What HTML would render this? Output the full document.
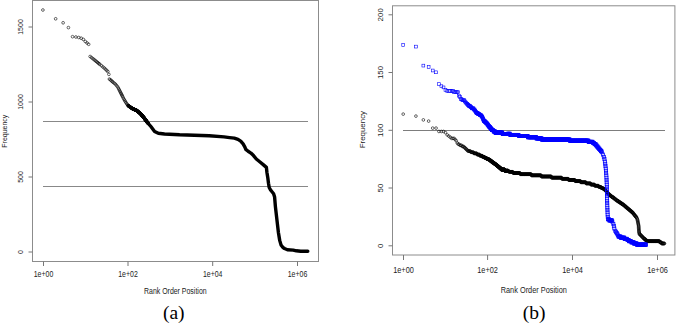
<!DOCTYPE html>
<html><head><meta charset="utf-8"><style>
html,body{margin:0;padding:0;background:#fff;}
body{width:676px;height:324px;overflow:hidden;font-family:"Liberation Sans",sans-serif;}
svg{display:block;}
</style></head><body>
<svg width="676" height="324" viewBox="0 0 676 324">
<rect x="32.5" y="0.5" width="286" height="261" fill="none" stroke="#8c8c8c" stroke-width="1"/><line x1="43" y1="121.5" x2="308" y2="121.5" stroke="#888" stroke-width="1"/><line x1="43" y1="186.5" x2="308" y2="186.5" stroke="#888" stroke-width="1"/><g font-family="&quot;Liberation Sans&quot;, sans-serif" font-size="7.0" fill="#222"><line x1="28.5" y1="252" x2="32.5" y2="252" stroke="#777" stroke-width="1"/><text transform="translate(22.5,252) rotate(-90)" text-anchor="middle" font-size="7.0">0</text><line x1="28.5" y1="177" x2="32.5" y2="177" stroke="#777" stroke-width="1"/><text transform="translate(22.5,177) rotate(-90)" text-anchor="middle" font-size="7.0">500</text><line x1="28.5" y1="102" x2="32.5" y2="102" stroke="#777" stroke-width="1"/><text transform="translate(22.5,102) rotate(-90)" text-anchor="middle" font-size="7.0">1000</text><line x1="28.5" y1="27" x2="32.5" y2="27" stroke="#777" stroke-width="1"/><text transform="translate(22.5,27) rotate(-90)" text-anchor="middle" font-size="7.0">1500</text><line x1="43.5" y1="261.5" x2="43.5" y2="266.0" stroke="#777" stroke-width="1"/><text transform="translate(43.5,277) scale(0.85,1)" text-anchor="middle" font-size="8.2">1e+00</text><line x1="128.0" y1="261.5" x2="128.0" y2="266.0" stroke="#777" stroke-width="1"/><text transform="translate(128.0,277) scale(0.85,1)" text-anchor="middle" font-size="8.2">1e+02</text><line x1="212.7" y1="261.5" x2="212.7" y2="266.0" stroke="#777" stroke-width="1"/><text transform="translate(212.7,277) scale(0.85,1)" text-anchor="middle" font-size="8.2">1e+04</text><line x1="297.5" y1="261.5" x2="297.5" y2="266.0" stroke="#777" stroke-width="1"/><text transform="translate(297.5,277) scale(0.85,1)" text-anchor="middle" font-size="8.2">1e+06</text><text transform="translate(175.3,294) scale(0.85,1)" font-size="8.2" text-anchor="middle">Rank Order Position</text><text transform="translate(7.1,131.2) rotate(-90)" font-size="7.0" text-anchor="middle">Frequency</text></g><g fill="none" stroke="#000" stroke-width="0.6"><circle cx="42.90" cy="10.00" r="1.35"/><circle cx="55.66" cy="18.80" r="1.35"/><circle cx="63.13" cy="22.80" r="1.35"/><circle cx="68.43" cy="27.60" r="1.35"/><circle cx="72.54" cy="36.70" r="1.35"/><circle cx="75.89" cy="37.00" r="1.35"/><circle cx="78.73" cy="37.50" r="1.35"/><circle cx="81.19" cy="38.20" r="1.35"/><circle cx="83.36" cy="39.40" r="1.35"/><circle cx="85.30" cy="41.50" r="1.35"/><circle cx="87.06" cy="43.00" r="1.35"/><circle cx="88.66" cy="44.30" r="1.35"/><circle cx="90.13" cy="56.50" r="1.35"/><circle cx="91.50" cy="57.58" r="1.35"/><circle cx="92.77" cy="58.59" r="1.35"/><circle cx="93.95" cy="59.53" r="1.35"/><circle cx="95.07" cy="60.42" r="1.35"/><circle cx="96.12" cy="61.29" r="1.35"/><circle cx="97.12" cy="62.11" r="1.35"/><circle cx="98.06" cy="62.89" r="1.35"/><circle cx="98.96" cy="63.63" r="1.35"/><circle cx="99.82" cy="64.33" r="1.35"/><circle cx="101.42" cy="65.68" r="1.35"/><circle cx="102.89" cy="66.92" r="1.35"/><circle cx="104.26" cy="68.06" r="1.35"/><circle cx="105.53" cy="69.23" r="1.35"/><circle cx="106.72" cy="70.42" r="1.35"/><circle cx="107.83" cy="71.53" r="1.35"/><circle cx="108.89" cy="74.35" r="1.35"/><circle cx="109.39" cy="79.03" r="1.35"/><circle cx="110.36" cy="79.78" r="1.35"/><circle cx="111.28" cy="80.58" r="1.35"/><circle cx="112.16" cy="81.46" r="1.35"/><circle cx="113.00" cy="82.18" r="1.35"/><circle cx="114.18" cy="83.14" r="1.35"/><circle cx="115.30" cy="84.04" r="1.35"/><circle cx="116.35" cy="85.26" r="1.35"/><circle cx="117.35" cy="86.49" r="1.35"/><circle cx="118.29" cy="87.90" r="1.35"/><circle cx="118.90" cy="89.14" r="1.35"/><circle cx="119.48" cy="90.35" r="1.35"/><circle cx="120.05" cy="91.48" r="1.35"/><circle cx="120.60" cy="92.55" r="1.35"/><circle cx="121.13" cy="93.59" r="1.35"/><circle cx="121.65" cy="94.60" r="1.35"/><circle cx="122.16" cy="95.64" r="1.35"/><circle cx="122.65" cy="96.65" r="1.35"/><circle cx="123.36" cy="98.11" r="1.35"/><circle cx="124.05" cy="99.34" r="1.35"/><circle cx="124.71" cy="100.48" r="1.35"/><circle cx="125.35" cy="101.58" r="1.35"/><circle cx="125.96" cy="102.64" r="1.35"/><circle cx="126.76" cy="103.74" r="1.35"/><circle cx="127.51" cy="104.79" r="1.35"/><circle cx="128.06" cy="105.55" r="1.35"/><circle cx="128.24" cy="105.70" r="1.35"/><circle cx="128.42" cy="105.82" r="1.35"/><circle cx="128.60" cy="105.95" r="1.35"/><circle cx="128.77" cy="106.07" r="1.35"/><circle cx="128.95" cy="106.19" r="1.35"/><circle cx="129.12" cy="106.31" r="1.35"/><circle cx="129.29" cy="106.43" r="1.35"/><circle cx="129.46" cy="106.55" r="1.35"/><circle cx="129.62" cy="106.66" r="1.35"/><circle cx="129.79" cy="106.78" r="1.35"/><circle cx="129.95" cy="106.89" r="1.35"/><circle cx="130.11" cy="107.00" r="1.35"/><circle cx="130.27" cy="107.12" r="1.35"/><circle cx="130.43" cy="107.23" r="1.35"/><circle cx="130.59" cy="107.34" r="1.35"/><circle cx="130.75" cy="107.45" r="1.35"/><circle cx="130.90" cy="107.56" r="1.35"/><circle cx="131.06" cy="107.66" r="1.35"/><circle cx="131.21" cy="107.77" r="1.35"/><circle cx="131.36" cy="107.88" r="1.35"/><circle cx="131.51" cy="107.98" r="1.35"/><circle cx="131.66" cy="108.08" r="1.35"/><circle cx="131.81" cy="108.19" r="1.35"/><circle cx="131.96" cy="108.29" r="1.35"/><circle cx="132.10" cy="108.39" r="1.35"/><circle cx="132.25" cy="108.49" r="1.35"/><circle cx="132.39" cy="108.59" r="1.35"/><circle cx="132.53" cy="108.66" r="1.35"/><circle cx="132.67" cy="108.72" r="1.35"/><circle cx="132.81" cy="108.78" r="1.35"/><circle cx="132.95" cy="108.84" r="1.35"/><circle cx="133.09" cy="108.90" r="1.35"/><circle cx="133.23" cy="108.97" r="1.35"/><circle cx="133.36" cy="109.03" r="1.35"/><circle cx="133.50" cy="109.08" r="1.35"/><circle cx="133.63" cy="109.14" r="1.35"/><circle cx="133.76" cy="109.20" r="1.35"/><circle cx="133.90" cy="109.26" r="1.35"/><circle cx="134.03" cy="109.32" r="1.35"/><circle cx="134.16" cy="109.38" r="1.35"/><circle cx="134.29" cy="109.43" r="1.35"/><circle cx="134.41" cy="109.49" r="1.35"/><circle cx="134.54" cy="109.55" r="1.35"/><circle cx="134.67" cy="109.60" r="1.35"/><circle cx="134.79" cy="109.66" r="1.35"/><circle cx="134.92" cy="109.71" r="1.35"/><circle cx="135.04" cy="109.77" r="1.35"/><circle cx="135.17" cy="109.82" r="1.35"/><circle cx="135.29" cy="109.88" r="1.35"/><circle cx="135.41" cy="109.93" r="1.35"/><circle cx="135.53" cy="109.98" r="1.35"/><circle cx="135.65" cy="110.04" r="1.35"/><circle cx="135.77" cy="110.09" r="1.35"/><circle cx="135.89" cy="110.14" r="1.35"/><circle cx="136.01" cy="110.19" r="1.35"/><circle cx="136.12" cy="110.25" r="1.35"/><circle cx="136.24" cy="110.30" r="1.35"/><circle cx="136.35" cy="110.35" r="1.35"/><circle cx="136.47" cy="110.40" r="1.35"/><circle cx="136.58" cy="110.45" r="1.35"/><circle cx="136.70" cy="110.50" r="1.35"/><circle cx="136.81" cy="110.59" r="1.35"/><circle cx="136.92" cy="110.69" r="1.35"/><circle cx="137.03" cy="110.78" r="1.35"/><circle cx="137.14" cy="110.87" r="1.35"/><circle cx="137.25" cy="110.96" r="1.35"/><circle cx="137.36" cy="111.05" r="1.35"/><circle cx="137.47" cy="111.15" r="1.35"/><circle cx="137.58" cy="111.24" r="1.35"/><circle cx="137.69" cy="111.33" r="1.35"/><circle cx="137.79" cy="111.42" r="1.35"/><circle cx="137.90" cy="111.50" r="1.35"/><circle cx="138.00" cy="111.59" r="1.35"/><circle cx="138.11" cy="111.68" r="1.35"/><circle cx="138.21" cy="111.77" r="1.35"/><circle cx="138.32" cy="111.86" r="1.35"/><circle cx="138.42" cy="111.94" r="1.35"/><circle cx="138.52" cy="112.03" r="1.35"/><circle cx="138.63" cy="112.11" r="1.35"/><circle cx="138.73" cy="112.20" r="1.35"/><circle cx="138.83" cy="112.28" r="1.35"/><circle cx="138.93" cy="112.37" r="1.35"/><circle cx="139.03" cy="112.45" r="1.35"/><circle cx="139.13" cy="112.53" r="1.35"/><circle cx="139.23" cy="112.62" r="1.35"/><circle cx="139.32" cy="112.70" r="1.35"/><circle cx="139.42" cy="112.78" r="1.35"/><circle cx="139.52" cy="112.86" r="1.35"/><circle cx="139.62" cy="112.94" r="1.35"/><circle cx="139.71" cy="113.02" r="1.35"/><circle cx="139.81" cy="113.10" r="1.35"/><circle cx="139.90" cy="113.18" r="1.35"/><circle cx="140.00" cy="113.26" r="1.35"/><circle cx="140.09" cy="113.34" r="1.35"/><circle cx="140.19" cy="113.42" r="1.35"/><circle cx="140.28" cy="113.50" r="1.35"/><circle cx="140.37" cy="113.58" r="1.35"/><circle cx="140.46" cy="113.67" r="1.35"/><circle cx="140.56" cy="113.78" r="1.35"/><circle cx="140.65" cy="113.89" r="1.35"/><circle cx="140.74" cy="113.99" r="1.35"/><circle cx="140.83" cy="114.10" r="1.35"/><circle cx="140.92" cy="114.20" r="1.35"/><circle cx="141.01" cy="114.31" r="1.35"/><circle cx="141.10" cy="114.41" r="1.35"/><circle cx="141.19" cy="114.51" r="1.35"/><circle cx="141.27" cy="114.62" r="1.35"/><circle cx="141.36" cy="114.72" r="1.35"/><circle cx="141.45" cy="114.82" r="1.35"/><circle cx="141.54" cy="114.92" r="1.35"/><circle cx="141.62" cy="115.02" r="1.35"/><circle cx="141.71" cy="115.12" r="1.35"/><circle cx="141.80" cy="115.22" r="1.35"/><circle cx="141.88" cy="115.32" r="1.35"/><circle cx="141.97" cy="115.42" r="1.35"/><circle cx="142.05" cy="115.52" r="1.35"/><circle cx="142.13" cy="115.62" r="1.35"/><circle cx="142.22" cy="115.71" r="1.35"/><circle cx="142.30" cy="115.81" r="1.35"/><circle cx="142.39" cy="115.91" r="1.35"/><circle cx="142.47" cy="116.00" r="1.35"/><circle cx="142.55" cy="116.10" r="1.35"/><circle cx="142.63" cy="116.19" r="1.35"/><circle cx="142.71" cy="116.29" r="1.35"/><circle cx="142.80" cy="116.38" r="1.35"/><circle cx="142.88" cy="116.48" r="1.35"/><circle cx="142.96" cy="116.57" r="1.35"/><circle cx="143.04" cy="116.66" r="1.35"/><circle cx="143.12" cy="116.76" r="1.35"/><circle cx="143.20" cy="116.85" r="1.35"/><circle cx="143.28" cy="116.94" r="1.35"/><circle cx="143.35" cy="117.03" r="1.35"/><circle cx="143.43" cy="117.13" r="1.35"/><circle cx="143.51" cy="117.22" r="1.35"/><circle cx="143.59" cy="117.31" r="1.35"/><circle cx="143.67" cy="117.40" r="1.35"/><circle cx="143.74" cy="117.49" r="1.35"/><circle cx="143.82" cy="117.58" r="1.35"/><circle cx="143.90" cy="117.66" r="1.35"/><circle cx="143.97" cy="117.75" r="1.35"/><circle cx="144.05" cy="117.84" r="1.35"/><circle cx="144.13" cy="117.94" r="1.35"/><circle cx="144.20" cy="118.04" r="1.35"/><circle cx="144.28" cy="118.14" r="1.35"/><circle cx="144.35" cy="118.25" r="1.35"/><circle cx="144.42" cy="118.35" r="1.35"/><circle cx="144.50" cy="118.45" r="1.35"/><circle cx="144.57" cy="118.56" r="1.35"/><circle cx="144.65" cy="118.66" r="1.35"/><circle cx="144.72" cy="118.76" r="1.35"/><circle cx="144.79" cy="118.86" r="1.35"/><circle cx="144.86" cy="118.96" r="1.35"/><circle cx="144.94" cy="119.06" r="1.35"/><circle cx="145.01" cy="119.16" r="1.35"/><circle cx="145.08" cy="119.26" r="1.35"/><circle cx="145.15" cy="119.36" r="1.35"/><circle cx="145.22" cy="119.46" r="1.35"/><circle cx="145.29" cy="119.56" r="1.35"/><circle cx="145.37" cy="119.66" r="1.35"/><circle cx="145.44" cy="119.75" r="1.35"/><circle cx="145.51" cy="119.85" r="1.35"/><circle cx="145.58" cy="119.95" r="1.35"/><circle cx="145.65" cy="120.04" r="1.35"/><circle cx="145.71" cy="120.14" r="1.35"/><circle cx="145.78" cy="120.24" r="1.35"/><circle cx="145.85" cy="120.33" r="1.35"/><circle cx="145.92" cy="120.43" r="1.35"/><circle cx="145.99" cy="120.52" r="1.35"/><circle cx="146.06" cy="120.62" r="1.35"/><circle cx="146.13" cy="120.71" r="1.35"/><circle cx="146.19" cy="120.80" r="1.35"/><circle cx="146.26" cy="120.90" r="1.35"/><circle cx="146.33" cy="120.99" r="1.35"/><circle cx="146.39" cy="121.08" r="1.35"/><circle cx="146.46" cy="121.18" r="1.35"/><circle cx="146.53" cy="121.27" r="1.35"/><circle cx="146.59" cy="121.36" r="1.35"/><circle cx="146.66" cy="121.45" r="1.35"/><circle cx="146.73" cy="121.54" r="1.35"/><circle cx="146.79" cy="121.63" r="1.35"/><circle cx="146.86" cy="121.72" r="1.35"/><circle cx="146.92" cy="121.81" r="1.35"/><circle cx="146.99" cy="121.90" r="1.35"/><circle cx="147.05" cy="121.99" r="1.35"/><circle cx="147.11" cy="122.08" r="1.35"/><circle cx="147.18" cy="122.17" r="1.35"/><circle cx="147.24" cy="122.25" r="1.35"/><circle cx="147.31" cy="122.32" r="1.35"/><circle cx="147.37" cy="122.40" r="1.35"/><circle cx="147.43" cy="122.47" r="1.35"/><circle cx="147.50" cy="122.54" r="1.35"/><circle cx="147.56" cy="122.62" r="1.35"/><circle cx="147.62" cy="122.69" r="1.35"/><circle cx="147.68" cy="122.76" r="1.35"/><circle cx="147.74" cy="122.83" r="1.35"/><circle cx="147.81" cy="122.91" r="1.35"/><circle cx="147.87" cy="122.98" r="1.35"/><circle cx="147.93" cy="123.05" r="1.35"/></g><polyline points="147.93,123.05 150.90,126.50 154.60,131.50 158.30,133.30 164.50,134.00 179.60,134.80 194.40,135.20 209.20,135.80 224.00,136.90 229.60,137.60 234.30,138.10 238.00,139.30 240.70,141.10 243.10,143.90 244.90,147.10 245.80,149.40 248.10,151.30 250.90,153.10 253.50,155.60 256.30,159.00 259.70,161.80 263.20,164.60 266.40,167.40 266.90,172.20 267.80,177.80 268.50,183.30 269.20,187.50 270.80,190.30 273.60,193.80 274.60,197.00 275.40,206.60 276.90,219.60 278.40,232.50 279.70,240.40 281.00,244.90 282.80,247.30 284.50,248.50 287.40,249.70 293.30,250.10 296.30,250.80 300.70,251.30 307.80,251.30" fill="none" stroke="#000" stroke-width="3.4" stroke-linejoin="round" stroke-linecap="round"/><rect x="392.5" y="5.8" width="282.4" height="249.2" fill="none" stroke="#8c8c8c" stroke-width="1"/><line x1="403" y1="130.5" x2="665" y2="130.5" stroke="#7d7d7d" stroke-width="1"/><g font-family="&quot;Liberation Sans&quot;, sans-serif" font-size="7.5" fill="#222"><line x1="388.5" y1="245.8" x2="392.5" y2="245.8" stroke="#777" stroke-width="1"/><text transform="translate(382.8,245.8) rotate(-90)" text-anchor="middle" font-size="7.9">0</text><line x1="388.5" y1="188" x2="392.5" y2="188" stroke="#777" stroke-width="1"/><text transform="translate(382.8,188) rotate(-90)" text-anchor="middle" font-size="7.9">50</text><line x1="388.5" y1="130.3" x2="392.5" y2="130.3" stroke="#777" stroke-width="1"/><text transform="translate(382.8,130.3) rotate(-90)" text-anchor="middle" font-size="7.9">100</text><line x1="388.5" y1="72.5" x2="392.5" y2="72.5" stroke="#777" stroke-width="1"/><text transform="translate(382.8,72.5) rotate(-90)" text-anchor="middle" font-size="7.9">150</text><line x1="388.5" y1="14.8" x2="392.5" y2="14.8" stroke="#777" stroke-width="1"/><text transform="translate(382.8,14.8) rotate(-90)" text-anchor="middle" font-size="7.9">200</text><line x1="403.5" y1="255.0" x2="403.5" y2="260.0" stroke="#777" stroke-width="1"/><text transform="translate(403.5,272.8) scale(0.855,1)" text-anchor="middle" font-size="8.6">1e+00</text><line x1="487.6" y1="255.0" x2="487.6" y2="260.0" stroke="#777" stroke-width="1"/><text transform="translate(487.6,272.8) scale(0.855,1)" text-anchor="middle" font-size="8.6">1e+02</text><line x1="572.5" y1="255.0" x2="572.5" y2="260.0" stroke="#777" stroke-width="1"/><text transform="translate(572.5,272.8) scale(0.855,1)" text-anchor="middle" font-size="8.6">1e+04</text><line x1="657.5" y1="255.0" x2="657.5" y2="260.0" stroke="#777" stroke-width="1"/><text transform="translate(657.5,272.8) scale(0.855,1)" text-anchor="middle" font-size="8.6">1e+06</text><text transform="translate(533.8,292.5) scale(0.855,1)" font-size="8.6" text-anchor="middle">Rank Order Position</text><text transform="translate(364.8,129.6) rotate(-90)" font-size="7.9" text-anchor="middle">Frequency</text></g><g fill="none" stroke="#000" stroke-width="0.6"><circle cx="403.20" cy="114.10" r="1.35"/><circle cx="415.92" cy="116.10" r="1.35"/><circle cx="423.36" cy="119.90" r="1.35"/><circle cx="428.64" cy="121.10" r="1.35"/><circle cx="432.73" cy="128.10" r="1.35"/><circle cx="436.08" cy="128.10" r="1.35"/><circle cx="438.91" cy="131.46" r="1.35"/><circle cx="441.36" cy="131.46" r="1.35"/><circle cx="443.52" cy="131.46" r="1.35"/><circle cx="445.45" cy="132.61" r="1.35"/><circle cx="447.20" cy="134.92" r="1.35"/><circle cx="448.80" cy="136.07" r="1.35"/><circle cx="450.26" cy="137.23" r="1.35"/><circle cx="451.62" cy="138.38" r="1.35"/><circle cx="452.89" cy="138.38" r="1.35"/><circle cx="454.07" cy="138.38" r="1.35"/><circle cx="455.19" cy="139.54" r="1.35"/><circle cx="456.24" cy="140.69" r="1.35"/><circle cx="457.23" cy="143.00" r="1.35"/><circle cx="458.17" cy="144.16" r="1.35"/><circle cx="459.06" cy="144.16" r="1.35"/><circle cx="459.92" cy="145.31" r="1.35"/><circle cx="460.73" cy="145.31" r="1.35"/><circle cx="461.51" cy="145.31" r="1.35"/><circle cx="462.26" cy="146.47" r="1.35"/><circle cx="462.98" cy="146.47" r="1.35"/><circle cx="463.68" cy="146.47" r="1.35"/><circle cx="464.34" cy="147.62" r="1.35"/><circle cx="464.99" cy="147.62" r="1.35"/><circle cx="465.61" cy="148.78" r="1.35"/><circle cx="466.21" cy="148.78" r="1.35"/><circle cx="466.79" cy="149.94" r="1.35"/><circle cx="467.36" cy="149.94" r="1.35"/><circle cx="467.90" cy="151.09" r="1.35"/><circle cx="468.44" cy="151.09" r="1.35"/><circle cx="468.95" cy="151.09" r="1.35"/><circle cx="469.46" cy="151.09" r="1.35"/><circle cx="469.95" cy="151.09" r="1.35"/><circle cx="470.42" cy="151.09" r="1.35"/><circle cx="470.89" cy="152.25" r="1.35"/><circle cx="471.34" cy="152.25" r="1.35"/><circle cx="471.78" cy="152.25" r="1.35"/><circle cx="472.21" cy="152.25" r="1.35"/><circle cx="472.64" cy="152.25" r="1.35"/><circle cx="473.05" cy="152.25" r="1.35"/><circle cx="473.45" cy="152.25" r="1.35"/><circle cx="473.85" cy="153.40" r="1.35"/><circle cx="474.23" cy="153.40" r="1.35"/><circle cx="474.61" cy="153.40" r="1.35"/><circle cx="474.98" cy="153.40" r="1.35"/><circle cx="475.34" cy="153.40" r="1.35"/><circle cx="475.70" cy="153.40" r="1.35"/><circle cx="476.05" cy="153.40" r="1.35"/><circle cx="476.39" cy="153.40" r="1.35"/><circle cx="476.73" cy="153.40" r="1.35"/><circle cx="477.06" cy="154.56" r="1.35"/><circle cx="477.39" cy="154.56" r="1.35"/><circle cx="477.70" cy="154.56" r="1.35"/><circle cx="478.02" cy="154.56" r="1.35"/><circle cx="478.33" cy="154.56" r="1.35"/><circle cx="478.63" cy="154.56" r="1.35"/><circle cx="478.93" cy="154.56" r="1.35"/><circle cx="479.22" cy="154.56" r="1.35"/><circle cx="479.51" cy="154.56" r="1.35"/><circle cx="479.80" cy="155.71" r="1.35"/><circle cx="480.08" cy="155.71" r="1.35"/><circle cx="480.35" cy="155.71" r="1.35"/><circle cx="480.62" cy="155.71" r="1.35"/><circle cx="480.89" cy="155.71" r="1.35"/><circle cx="481.16" cy="155.71" r="1.35"/><circle cx="481.42" cy="155.71" r="1.35"/><circle cx="481.67" cy="155.71" r="1.35"/><circle cx="481.93" cy="155.71" r="1.35"/><circle cx="482.18" cy="155.71" r="1.35"/><circle cx="482.42" cy="156.87" r="1.35"/><circle cx="482.66" cy="156.87" r="1.35"/><circle cx="482.90" cy="156.87" r="1.35"/><circle cx="483.14" cy="156.87" r="1.35"/><circle cx="483.37" cy="156.87" r="1.35"/><circle cx="483.61" cy="156.87" r="1.35"/><circle cx="483.83" cy="156.87" r="1.35"/><circle cx="484.06" cy="156.87" r="1.35"/><circle cx="484.28" cy="156.87" r="1.35"/><circle cx="484.50" cy="156.87" r="1.35"/><circle cx="484.72" cy="158.02" r="1.35"/><circle cx="484.93" cy="158.02" r="1.35"/><circle cx="485.14" cy="158.02" r="1.35"/><circle cx="485.35" cy="158.02" r="1.35"/><circle cx="485.56" cy="158.02" r="1.35"/><circle cx="485.77" cy="158.02" r="1.35"/><circle cx="485.97" cy="158.02" r="1.35"/><circle cx="486.17" cy="158.02" r="1.35"/><circle cx="486.37" cy="158.02" r="1.35"/><circle cx="486.56" cy="158.02" r="1.35"/><circle cx="486.76" cy="158.02" r="1.35"/><circle cx="486.95" cy="159.18" r="1.35"/><circle cx="487.14" cy="159.18" r="1.35"/><circle cx="487.33" cy="159.18" r="1.35"/><circle cx="487.52" cy="159.18" r="1.35"/><circle cx="487.70" cy="159.18" r="1.35"/><circle cx="487.88" cy="159.18" r="1.35"/><circle cx="488.06" cy="159.18" r="1.35"/><circle cx="488.24" cy="159.18" r="1.35"/><circle cx="488.42" cy="159.18" r="1.35"/><circle cx="488.60" cy="159.18" r="1.35"/><circle cx="488.77" cy="159.18" r="1.35"/><circle cx="488.94" cy="159.18" r="1.35"/><circle cx="489.11" cy="159.18" r="1.35"/><circle cx="489.28" cy="160.33" r="1.35"/><circle cx="489.45" cy="160.33" r="1.35"/><circle cx="489.61" cy="160.33" r="1.35"/><circle cx="489.78" cy="160.33" r="1.35"/><circle cx="489.94" cy="160.33" r="1.35"/><circle cx="490.10" cy="160.33" r="1.35"/><circle cx="490.26" cy="160.33" r="1.35"/><circle cx="490.42" cy="160.33" r="1.35"/><circle cx="490.58" cy="160.33" r="1.35"/><circle cx="490.74" cy="160.33" r="1.35"/><circle cx="490.89" cy="161.49" r="1.35"/><circle cx="491.05" cy="161.49" r="1.35"/><circle cx="491.20" cy="161.49" r="1.35"/><circle cx="491.35" cy="161.49" r="1.35"/><circle cx="491.50" cy="161.49" r="1.35"/><circle cx="491.65" cy="161.49" r="1.35"/><circle cx="491.79" cy="161.49" r="1.35"/><circle cx="491.94" cy="161.49" r="1.35"/><circle cx="492.09" cy="161.49" r="1.35"/><circle cx="492.23" cy="161.49" r="1.35"/><circle cx="492.37" cy="161.49" r="1.35"/><circle cx="492.51" cy="162.64" r="1.35"/><circle cx="492.65" cy="162.64" r="1.35"/><circle cx="492.79" cy="162.64" r="1.35"/><circle cx="492.93" cy="162.64" r="1.35"/><circle cx="493.07" cy="162.64" r="1.35"/><circle cx="493.21" cy="162.64" r="1.35"/><circle cx="493.34" cy="162.64" r="1.35"/><circle cx="493.48" cy="162.64" r="1.35"/><circle cx="493.61" cy="162.64" r="1.35"/><circle cx="493.74" cy="162.64" r="1.35"/><circle cx="493.87" cy="162.64" r="1.35"/><circle cx="494.00" cy="162.64" r="1.35"/><circle cx="494.13" cy="163.80" r="1.35"/><circle cx="494.26" cy="163.80" r="1.35"/><circle cx="494.39" cy="163.80" r="1.35"/><circle cx="494.52" cy="163.80" r="1.35"/><circle cx="494.64" cy="163.80" r="1.35"/><circle cx="494.77" cy="163.80" r="1.35"/><circle cx="494.89" cy="163.80" r="1.35"/><circle cx="495.02" cy="163.80" r="1.35"/><circle cx="495.14" cy="163.80" r="1.35"/><circle cx="495.26" cy="163.80" r="1.35"/><circle cx="495.38" cy="163.80" r="1.35"/><circle cx="495.50" cy="163.80" r="1.35"/><circle cx="495.62" cy="163.80" r="1.35"/><circle cx="495.74" cy="164.95" r="1.35"/><circle cx="495.86" cy="164.95" r="1.35"/><circle cx="495.98" cy="164.95" r="1.35"/><circle cx="496.09" cy="164.95" r="1.35"/><circle cx="496.21" cy="164.95" r="1.35"/><circle cx="496.32" cy="164.95" r="1.35"/><circle cx="496.44" cy="164.95" r="1.35"/><circle cx="496.55" cy="164.95" r="1.35"/><circle cx="496.66" cy="164.95" r="1.35"/><circle cx="496.78" cy="164.95" r="1.35"/><circle cx="496.89" cy="164.95" r="1.35"/><circle cx="497.00" cy="164.95" r="1.35"/><circle cx="497.11" cy="166.11" r="1.35"/><circle cx="497.22" cy="166.11" r="1.35"/><circle cx="497.33" cy="166.11" r="1.35"/><circle cx="497.44" cy="166.11" r="1.35"/><circle cx="497.54" cy="166.11" r="1.35"/><circle cx="497.65" cy="166.11" r="1.35"/><circle cx="497.76" cy="166.11" r="1.35"/><circle cx="497.86" cy="166.11" r="1.35"/><circle cx="497.97" cy="166.11" r="1.35"/><circle cx="498.07" cy="166.11" r="1.35"/><circle cx="498.18" cy="166.11" r="1.35"/><circle cx="498.28" cy="166.11" r="1.35"/><circle cx="498.38" cy="166.11" r="1.35"/><circle cx="498.49" cy="167.26" r="1.35"/><circle cx="498.59" cy="167.26" r="1.35"/><circle cx="498.69" cy="167.26" r="1.35"/><circle cx="498.79" cy="167.26" r="1.35"/><circle cx="498.89" cy="167.26" r="1.35"/><circle cx="498.99" cy="167.26" r="1.35"/><circle cx="499.09" cy="167.26" r="1.35"/><circle cx="499.19" cy="167.26" r="1.35"/><circle cx="499.28" cy="167.26" r="1.35"/><circle cx="499.38" cy="167.26" r="1.35"/><circle cx="499.48" cy="167.26" r="1.35"/><circle cx="499.57" cy="167.26" r="1.35"/><circle cx="499.67" cy="167.26" r="1.35"/><circle cx="499.76" cy="167.26" r="1.35"/><circle cx="499.86" cy="168.42" r="1.35"/><circle cx="499.95" cy="168.42" r="1.35"/><circle cx="500.05" cy="168.42" r="1.35"/><circle cx="500.14" cy="168.42" r="1.35"/><circle cx="500.23" cy="168.42" r="1.35"/><circle cx="500.33" cy="168.42" r="1.35"/><circle cx="500.42" cy="168.42" r="1.35"/><circle cx="500.51" cy="168.42" r="1.35"/><circle cx="500.60" cy="168.42" r="1.35"/><circle cx="500.69" cy="168.42" r="1.35"/><circle cx="500.78" cy="168.42" r="1.35"/><circle cx="500.87" cy="168.42" r="1.35"/><circle cx="500.96" cy="168.42" r="1.35"/><circle cx="501.05" cy="168.42" r="1.35"/><circle cx="501.14" cy="168.42" r="1.35"/><circle cx="501.23" cy="169.57" r="1.35"/><circle cx="501.31" cy="169.57" r="1.35"/><circle cx="501.40" cy="169.57" r="1.35"/><circle cx="501.49" cy="169.57" r="1.35"/><circle cx="501.57" cy="169.57" r="1.35"/><circle cx="501.66" cy="169.57" r="1.35"/><circle cx="501.75" cy="169.57" r="1.35"/><circle cx="501.83" cy="169.57" r="1.35"/><circle cx="501.92" cy="169.57" r="1.35"/><circle cx="502.00" cy="169.57" r="1.35"/><circle cx="502.08" cy="169.57" r="1.35"/><circle cx="502.17" cy="169.57" r="1.35"/><circle cx="502.25" cy="169.57" r="1.35"/><circle cx="502.33" cy="169.57" r="1.35"/><circle cx="502.42" cy="169.57" r="1.35"/><circle cx="502.50" cy="169.57" r="1.35"/><circle cx="502.58" cy="169.57" r="1.35"/><circle cx="502.66" cy="169.57" r="1.35"/><circle cx="502.74" cy="169.57" r="1.35"/><circle cx="502.82" cy="169.57" r="1.35"/><circle cx="502.90" cy="169.57" r="1.35"/><circle cx="502.98" cy="169.57" r="1.35"/><circle cx="503.06" cy="169.57" r="1.35"/><circle cx="503.14" cy="169.57" r="1.35"/><circle cx="503.22" cy="169.57" r="1.35"/><circle cx="503.30" cy="169.57" r="1.35"/><circle cx="503.38" cy="169.57" r="1.35"/><circle cx="503.46" cy="169.57" r="1.35"/><circle cx="503.53" cy="169.57" r="1.35"/><circle cx="503.61" cy="169.57" r="1.35"/><circle cx="503.69" cy="169.57" r="1.35"/><circle cx="503.76" cy="169.57" r="1.35"/><circle cx="503.84" cy="169.57" r="1.35"/><circle cx="503.92" cy="169.57" r="1.35"/><circle cx="503.99" cy="169.57" r="1.35"/><circle cx="504.07" cy="169.57" r="1.35"/><circle cx="504.14" cy="169.57" r="1.35"/><circle cx="504.22" cy="169.57" r="1.35"/><circle cx="504.29" cy="169.57" r="1.35"/><circle cx="504.37" cy="169.57" r="1.35"/><circle cx="504.44" cy="169.57" r="1.35"/><circle cx="504.51" cy="169.57" r="1.35"/><circle cx="504.59" cy="169.57" r="1.35"/><circle cx="504.66" cy="169.57" r="1.35"/><circle cx="504.73" cy="169.57" r="1.35"/><circle cx="504.80" cy="170.73" r="1.35"/><circle cx="504.88" cy="170.73" r="1.35"/><circle cx="504.95" cy="170.73" r="1.35"/><circle cx="505.02" cy="170.73" r="1.35"/><circle cx="505.09" cy="170.73" r="1.35"/><circle cx="505.16" cy="170.73" r="1.35"/><circle cx="505.23" cy="170.73" r="1.35"/><circle cx="505.30" cy="170.73" r="1.35"/><circle cx="505.37" cy="170.73" r="1.35"/><circle cx="505.44" cy="170.73" r="1.35"/><circle cx="505.51" cy="170.73" r="1.35"/><circle cx="505.58" cy="170.73" r="1.35"/><circle cx="505.65" cy="170.73" r="1.35"/><circle cx="505.72" cy="170.73" r="1.35"/><circle cx="505.79" cy="170.73" r="1.35"/><circle cx="505.86" cy="170.73" r="1.35"/><circle cx="505.93" cy="170.73" r="1.35"/><circle cx="505.99" cy="170.73" r="1.35"/><circle cx="506.06" cy="170.73" r="1.35"/><circle cx="506.13" cy="170.73" r="1.35"/><circle cx="506.19" cy="170.73" r="1.35"/><circle cx="506.26" cy="170.73" r="1.35"/><circle cx="506.33" cy="170.73" r="1.35"/><circle cx="506.39" cy="170.73" r="1.35"/><circle cx="506.46" cy="170.73" r="1.35"/><circle cx="506.53" cy="170.73" r="1.35"/><circle cx="506.59" cy="170.73" r="1.35"/><circle cx="506.66" cy="170.73" r="1.35"/><circle cx="506.72" cy="170.73" r="1.35"/><circle cx="506.79" cy="170.73" r="1.35"/><circle cx="506.85" cy="170.73" r="1.35"/><circle cx="506.92" cy="170.73" r="1.35"/><circle cx="506.98" cy="170.73" r="1.35"/><circle cx="507.05" cy="170.73" r="1.35"/><circle cx="507.11" cy="170.73" r="1.35"/><circle cx="507.17" cy="170.73" r="1.35"/><circle cx="507.24" cy="170.73" r="1.35"/><circle cx="507.30" cy="170.73" r="1.35"/><circle cx="507.36" cy="170.73" r="1.35"/><circle cx="507.43" cy="170.73" r="1.35"/><circle cx="507.49" cy="170.73" r="1.35"/><circle cx="507.55" cy="170.73" r="1.35"/><circle cx="507.61" cy="170.73" r="1.35"/><circle cx="507.67" cy="170.73" r="1.35"/><circle cx="507.74" cy="170.73" r="1.35"/><circle cx="507.80" cy="170.73" r="1.35"/><circle cx="507.86" cy="170.73" r="1.35"/></g><g fill="none" stroke="#000" stroke-width="0.75"><circle cx="507.86" cy="170.73" r="1.4"/><circle cx="508.44" cy="170.73" r="1.4"/><circle cx="509.02" cy="171.88" r="1.4"/><circle cx="509.43" cy="171.88" r="1.4"/><circle cx="509.85" cy="171.88" r="1.4"/><circle cx="510.27" cy="171.88" r="1.4"/><circle cx="510.68" cy="171.88" r="1.4"/><circle cx="511.10" cy="171.88" r="1.4"/><circle cx="511.51" cy="171.88" r="1.4"/><circle cx="511.93" cy="171.88" r="1.4"/><circle cx="512.34" cy="171.88" r="1.4"/><circle cx="512.76" cy="171.88" r="1.4"/><circle cx="513.18" cy="173.04" r="1.4"/><circle cx="513.58" cy="173.04" r="1.4"/><circle cx="513.98" cy="173.04" r="1.4"/><circle cx="514.38" cy="173.04" r="1.4"/><circle cx="514.78" cy="173.04" r="1.4"/><circle cx="515.18" cy="173.04" r="1.4"/><circle cx="515.58" cy="173.04" r="1.4"/><circle cx="515.99" cy="173.04" r="1.4"/><circle cx="516.39" cy="173.04" r="1.4"/><circle cx="516.79" cy="173.04" r="1.4"/><circle cx="517.19" cy="173.04" r="1.4"/><circle cx="517.59" cy="173.04" r="1.4"/><circle cx="517.99" cy="173.04" r="1.4"/><circle cx="518.39" cy="173.04" r="1.4"/><circle cx="518.79" cy="173.04" r="1.4"/><circle cx="519.20" cy="173.04" r="1.4"/><circle cx="519.60" cy="173.04" r="1.4"/><circle cx="520.00" cy="173.04" r="1.4"/><circle cx="520.40" cy="174.19" r="1.4"/><circle cx="520.81" cy="174.19" r="1.4"/><circle cx="521.22" cy="174.19" r="1.4"/><circle cx="521.63" cy="174.19" r="1.4"/><circle cx="522.04" cy="174.19" r="1.4"/><circle cx="522.45" cy="174.19" r="1.4"/><circle cx="522.87" cy="174.19" r="1.4"/><circle cx="523.28" cy="174.19" r="1.4"/><circle cx="523.69" cy="174.19" r="1.4"/><circle cx="524.10" cy="174.19" r="1.4"/><circle cx="524.51" cy="174.19" r="1.4"/><circle cx="524.92" cy="174.19" r="1.4"/><circle cx="525.33" cy="174.19" r="1.4"/><circle cx="525.74" cy="174.19" r="1.4"/><circle cx="526.15" cy="174.19" r="1.4"/><circle cx="526.56" cy="174.19" r="1.4"/><circle cx="526.98" cy="174.19" r="1.4"/><circle cx="527.39" cy="174.19" r="1.4"/><circle cx="527.80" cy="174.19" r="1.4"/><circle cx="528.21" cy="174.19" r="1.4"/><circle cx="528.62" cy="174.19" r="1.4"/><circle cx="529.03" cy="174.19" r="1.4"/><circle cx="529.44" cy="174.19" r="1.4"/><circle cx="529.85" cy="174.19" r="1.4"/><circle cx="530.26" cy="174.19" r="1.4"/><circle cx="530.67" cy="174.19" r="1.4"/><circle cx="531.09" cy="174.19" r="1.4"/><circle cx="531.50" cy="175.35" r="1.4"/><circle cx="531.91" cy="175.35" r="1.4"/><circle cx="532.32" cy="175.35" r="1.4"/><circle cx="532.74" cy="175.35" r="1.4"/><circle cx="533.15" cy="175.35" r="1.4"/><circle cx="533.57" cy="175.35" r="1.4"/><circle cx="533.98" cy="175.35" r="1.4"/><circle cx="534.39" cy="175.35" r="1.4"/><circle cx="534.81" cy="175.35" r="1.4"/><circle cx="535.22" cy="175.35" r="1.4"/><circle cx="535.64" cy="175.35" r="1.4"/><circle cx="536.05" cy="175.35" r="1.4"/><circle cx="536.46" cy="175.35" r="1.4"/><circle cx="536.88" cy="175.35" r="1.4"/><circle cx="537.29" cy="175.35" r="1.4"/><circle cx="537.71" cy="175.35" r="1.4"/><circle cx="538.12" cy="175.35" r="1.4"/><circle cx="538.53" cy="175.35" r="1.4"/><circle cx="538.95" cy="175.35" r="1.4"/><circle cx="539.36" cy="175.35" r="1.4"/><circle cx="539.78" cy="175.35" r="1.4"/><circle cx="540.19" cy="175.35" r="1.4"/><circle cx="540.60" cy="175.35" r="1.4"/><circle cx="541.02" cy="175.35" r="1.4"/><circle cx="541.43" cy="176.50" r="1.4"/><circle cx="541.84" cy="176.50" r="1.4"/><circle cx="542.25" cy="176.50" r="1.4"/><circle cx="542.65" cy="176.50" r="1.4"/><circle cx="543.06" cy="176.50" r="1.4"/><circle cx="543.47" cy="176.50" r="1.4"/><circle cx="543.87" cy="176.50" r="1.4"/><circle cx="544.28" cy="176.50" r="1.4"/><circle cx="544.69" cy="176.50" r="1.4"/><circle cx="545.09" cy="176.50" r="1.4"/><circle cx="545.50" cy="176.50" r="1.4"/><circle cx="545.91" cy="176.50" r="1.4"/><circle cx="546.31" cy="176.50" r="1.4"/><circle cx="546.72" cy="176.50" r="1.4"/><circle cx="547.13" cy="176.50" r="1.4"/><circle cx="547.53" cy="176.50" r="1.4"/><circle cx="547.94" cy="176.50" r="1.4"/><circle cx="548.35" cy="176.50" r="1.4"/><circle cx="548.75" cy="176.50" r="1.4"/><circle cx="549.16" cy="176.50" r="1.4"/><circle cx="549.57" cy="176.50" r="1.4"/><circle cx="549.97" cy="176.50" r="1.4"/><circle cx="550.38" cy="176.50" r="1.4"/><circle cx="550.79" cy="176.50" r="1.4"/><circle cx="551.19" cy="176.50" r="1.4"/><circle cx="551.60" cy="177.66" r="1.4"/><circle cx="552.01" cy="177.66" r="1.4"/><circle cx="552.42" cy="177.66" r="1.4"/><circle cx="552.84" cy="177.66" r="1.4"/><circle cx="553.25" cy="177.66" r="1.4"/><circle cx="553.66" cy="177.66" r="1.4"/><circle cx="554.07" cy="177.66" r="1.4"/><circle cx="554.48" cy="177.66" r="1.4"/><circle cx="554.90" cy="177.66" r="1.4"/><circle cx="555.31" cy="177.66" r="1.4"/><circle cx="555.72" cy="177.66" r="1.4"/><circle cx="556.13" cy="177.66" r="1.4"/><circle cx="556.54" cy="177.66" r="1.4"/><circle cx="556.95" cy="177.66" r="1.4"/><circle cx="557.37" cy="177.66" r="1.4"/><circle cx="557.78" cy="177.66" r="1.4"/><circle cx="558.19" cy="177.66" r="1.4"/><circle cx="558.60" cy="177.66" r="1.4"/><circle cx="559.01" cy="177.66" r="1.4"/><circle cx="559.43" cy="177.66" r="1.4"/><circle cx="559.84" cy="177.66" r="1.4"/><circle cx="560.25" cy="177.66" r="1.4"/><circle cx="560.66" cy="177.66" r="1.4"/><circle cx="561.07" cy="177.66" r="1.4"/><circle cx="561.49" cy="177.66" r="1.4"/><circle cx="561.90" cy="178.81" r="1.4"/><circle cx="562.32" cy="178.81" r="1.4"/><circle cx="562.74" cy="178.81" r="1.4"/><circle cx="563.16" cy="178.81" r="1.4"/><circle cx="563.58" cy="178.81" r="1.4"/><circle cx="564.00" cy="178.81" r="1.4"/><circle cx="564.41" cy="178.81" r="1.4"/><circle cx="564.83" cy="178.81" r="1.4"/><circle cx="565.25" cy="178.81" r="1.4"/><circle cx="565.67" cy="178.81" r="1.4"/><circle cx="566.09" cy="178.81" r="1.4"/><circle cx="566.51" cy="178.81" r="1.4"/><circle cx="566.93" cy="178.81" r="1.4"/><circle cx="567.35" cy="178.81" r="1.4"/><circle cx="567.77" cy="178.81" r="1.4"/><circle cx="568.19" cy="178.81" r="1.4"/><circle cx="568.61" cy="179.97" r="1.4"/><circle cx="569.02" cy="179.97" r="1.4"/><circle cx="569.44" cy="179.97" r="1.4"/><circle cx="569.85" cy="179.97" r="1.4"/><circle cx="570.26" cy="179.97" r="1.4"/><circle cx="570.68" cy="179.97" r="1.4"/><circle cx="571.09" cy="179.97" r="1.4"/><circle cx="571.50" cy="179.97" r="1.4"/><circle cx="571.92" cy="179.97" r="1.4"/><circle cx="572.33" cy="179.97" r="1.4"/><circle cx="572.74" cy="179.97" r="1.4"/><circle cx="573.16" cy="179.97" r="1.4"/><circle cx="573.57" cy="179.97" r="1.4"/><circle cx="573.99" cy="179.97" r="1.4"/><circle cx="574.40" cy="179.97" r="1.4"/><circle cx="574.81" cy="179.97" r="1.4"/><circle cx="575.23" cy="181.12" r="1.4"/><circle cx="575.63" cy="181.12" r="1.4"/><circle cx="576.03" cy="181.12" r="1.4"/><circle cx="576.43" cy="181.12" r="1.4"/><circle cx="576.83" cy="181.12" r="1.4"/><circle cx="577.23" cy="181.12" r="1.4"/><circle cx="577.63" cy="181.12" r="1.4"/><circle cx="578.03" cy="181.12" r="1.4"/><circle cx="578.43" cy="181.12" r="1.4"/><circle cx="578.84" cy="181.12" r="1.4"/><circle cx="579.24" cy="181.12" r="1.4"/><circle cx="579.64" cy="181.12" r="1.4"/><circle cx="580.04" cy="181.12" r="1.4"/><circle cx="580.44" cy="181.12" r="1.4"/><circle cx="580.84" cy="182.28" r="1.4"/><circle cx="581.25" cy="182.28" r="1.4"/><circle cx="581.66" cy="182.28" r="1.4"/><circle cx="582.07" cy="182.28" r="1.4"/><circle cx="582.48" cy="182.28" r="1.4"/><circle cx="582.88" cy="182.28" r="1.4"/><circle cx="583.29" cy="182.28" r="1.4"/><circle cx="583.70" cy="182.28" r="1.4"/><circle cx="584.11" cy="182.28" r="1.4"/><circle cx="584.52" cy="182.28" r="1.4"/><circle cx="584.93" cy="182.28" r="1.4"/><circle cx="585.34" cy="182.28" r="1.4"/><circle cx="585.75" cy="182.28" r="1.4"/><circle cx="586.15" cy="183.43" r="1.4"/><circle cx="586.59" cy="183.43" r="1.4"/><circle cx="587.02" cy="183.43" r="1.4"/><circle cx="587.46" cy="183.43" r="1.4"/><circle cx="587.90" cy="183.43" r="1.4"/><circle cx="588.33" cy="183.43" r="1.4"/><circle cx="588.77" cy="183.43" r="1.4"/><circle cx="589.20" cy="183.43" r="1.4"/><circle cx="589.64" cy="183.43" r="1.4"/><circle cx="590.07" cy="183.43" r="1.4"/><circle cx="590.51" cy="183.43" r="1.4"/><circle cx="590.94" cy="184.59" r="1.4"/><circle cx="591.37" cy="184.59" r="1.4"/><circle cx="591.80" cy="184.59" r="1.4"/><circle cx="592.22" cy="184.59" r="1.4"/><circle cx="592.65" cy="184.59" r="1.4"/><circle cx="593.08" cy="184.59" r="1.4"/><circle cx="593.50" cy="184.59" r="1.4"/><circle cx="593.93" cy="184.59" r="1.4"/><circle cx="594.36" cy="184.59" r="1.4"/><circle cx="594.78" cy="185.74" r="1.4"/><circle cx="595.22" cy="185.74" r="1.4"/><circle cx="595.66" cy="185.74" r="1.4"/><circle cx="596.10" cy="185.74" r="1.4"/><circle cx="596.54" cy="185.74" r="1.4"/><circle cx="596.97" cy="185.74" r="1.4"/><circle cx="597.41" cy="185.74" r="1.4"/><circle cx="597.85" cy="185.74" r="1.4"/><circle cx="598.29" cy="185.74" r="1.4"/><circle cx="598.72" cy="186.90" r="1.4"/><circle cx="599.15" cy="186.90" r="1.4"/><circle cx="599.58" cy="186.90" r="1.4"/><circle cx="600.00" cy="186.90" r="1.4"/><circle cx="600.43" cy="186.90" r="1.4"/><circle cx="600.86" cy="186.90" r="1.4"/><circle cx="601.28" cy="188.05" r="1.4"/><circle cx="601.73" cy="188.05" r="1.4"/><circle cx="602.19" cy="188.05" r="1.4"/><circle cx="602.64" cy="188.05" r="1.4"/><circle cx="603.09" cy="188.05" r="1.4"/><circle cx="603.54" cy="189.21" r="1.4"/><circle cx="603.97" cy="189.21" r="1.4"/><circle cx="604.40" cy="189.21" r="1.4"/><circle cx="604.83" cy="189.21" r="1.4"/><circle cx="605.27" cy="190.36" r="1.4"/><circle cx="605.77" cy="190.36" r="1.4"/><circle cx="606.27" cy="191.52" r="1.4"/><circle cx="606.77" cy="191.52" r="1.4"/><circle cx="607.27" cy="192.67" r="1.4"/><circle cx="607.77" cy="192.67" r="1.4"/><circle cx="608.27" cy="193.83" r="1.4"/><circle cx="608.80" cy="193.83" r="1.4"/><circle cx="609.33" cy="194.98" r="1.4"/><circle cx="609.76" cy="194.98" r="1.4"/><circle cx="610.18" cy="194.98" r="1.4"/><circle cx="610.61" cy="196.14" r="1.4"/><circle cx="611.12" cy="196.14" r="1.4"/><circle cx="611.63" cy="196.14" r="1.4"/><circle cx="612.14" cy="197.29" r="1.4"/><circle cx="612.55" cy="197.29" r="1.4"/><circle cx="612.95" cy="197.29" r="1.4"/><circle cx="613.36" cy="197.29" r="1.4"/><circle cx="613.76" cy="198.44" r="1.4"/><circle cx="614.27" cy="198.44" r="1.4"/><circle cx="614.79" cy="198.44" r="1.4"/><circle cx="615.30" cy="199.60" r="1.4"/><circle cx="615.81" cy="199.60" r="1.4"/><circle cx="616.32" cy="199.60" r="1.4"/><circle cx="616.83" cy="200.75" r="1.4"/><circle cx="617.25" cy="200.75" r="1.4"/><circle cx="617.66" cy="200.75" r="1.4"/><circle cx="618.07" cy="200.75" r="1.4"/><circle cx="618.48" cy="201.91" r="1.4"/><circle cx="618.92" cy="201.91" r="1.4"/><circle cx="619.36" cy="201.91" r="1.4"/><circle cx="619.80" cy="201.91" r="1.4"/><circle cx="620.23" cy="203.06" r="1.4"/><circle cx="620.65" cy="203.06" r="1.4"/><circle cx="621.07" cy="203.06" r="1.4"/><circle cx="621.48" cy="203.06" r="1.4"/><circle cx="621.90" cy="204.22" r="1.4"/><circle cx="622.32" cy="204.22" r="1.4"/><circle cx="622.73" cy="204.22" r="1.4"/><circle cx="623.15" cy="204.22" r="1.4"/><circle cx="623.57" cy="205.38" r="1.4"/><circle cx="624.07" cy="205.38" r="1.4"/><circle cx="624.58" cy="205.38" r="1.4"/><circle cx="625.09" cy="206.53" r="1.4"/><circle cx="625.52" cy="206.53" r="1.4"/><circle cx="625.96" cy="206.53" r="1.4"/><circle cx="626.39" cy="207.69" r="1.4"/><circle cx="626.85" cy="207.69" r="1.4"/><circle cx="627.31" cy="207.69" r="1.4"/><circle cx="627.77" cy="208.84" r="1.4"/><circle cx="628.23" cy="208.84" r="1.4"/><circle cx="628.69" cy="208.84" r="1.4"/><circle cx="629.15" cy="210.00" r="1.4"/><circle cx="629.58" cy="210.00" r="1.4"/><circle cx="630.02" cy="210.00" r="1.4"/><circle cx="630.45" cy="211.15" r="1.4"/><circle cx="630.91" cy="211.15" r="1.4"/><circle cx="631.37" cy="211.15" r="1.4"/><circle cx="631.83" cy="212.31" r="1.4"/><circle cx="632.24" cy="212.31" r="1.4"/><circle cx="632.64" cy="212.31" r="1.4"/><circle cx="633.05" cy="213.46" r="1.4"/><circle cx="633.53" cy="213.46" r="1.4"/><circle cx="634.01" cy="214.62" r="1.4"/><circle cx="634.45" cy="214.62" r="1.4"/><circle cx="634.90" cy="215.77" r="1.4"/><circle cx="635.38" cy="215.77" r="1.4"/><circle cx="635.86" cy="216.93" r="1.4"/><circle cx="636.34" cy="216.93" r="1.4"/><circle cx="636.82" cy="218.08" r="1.4"/><circle cx="637.34" cy="219.24" r="1.4"/><circle cx="637.57" cy="220.39" r="1.4"/><circle cx="637.81" cy="221.55" r="1.4"/><circle cx="638.03" cy="222.70" r="1.4"/><circle cx="638.26" cy="223.86" r="1.4"/><circle cx="638.50" cy="225.01" r="1.4"/><circle cx="638.64" cy="226.17" r="1.4"/><circle cx="638.72" cy="227.32" r="1.4"/><circle cx="638.79" cy="228.48" r="1.4"/><circle cx="638.87" cy="229.63" r="1.4"/><circle cx="638.97" cy="230.79" r="1.4"/><circle cx="639.08" cy="231.94" r="1.4"/><circle cx="639.21" cy="233.09" r="1.4"/><circle cx="639.52" cy="234.25" r="1.4"/><circle cx="640.09" cy="234.25" r="1.4"/><circle cx="640.67" cy="235.41" r="1.4"/><circle cx="641.23" cy="235.41" r="1.4"/><circle cx="641.80" cy="236.56" r="1.4"/><circle cx="642.36" cy="236.56" r="1.4"/><circle cx="642.93" cy="237.72" r="1.4"/><circle cx="643.50" cy="237.72" r="1.4"/><circle cx="644.08" cy="238.87" r="1.4"/><circle cx="644.51" cy="238.87" r="1.4"/><circle cx="644.93" cy="238.87" r="1.4"/><circle cx="645.36" cy="240.03" r="1.4"/><circle cx="645.79" cy="240.03" r="1.4"/><circle cx="646.22" cy="240.03" r="1.4"/><circle cx="646.65" cy="241.18" r="1.4"/><circle cx="647.05" cy="241.18" r="1.4"/><circle cx="647.45" cy="241.18" r="1.4"/><circle cx="647.85" cy="241.18" r="1.4"/><circle cx="648.25" cy="241.18" r="1.4"/><circle cx="648.66" cy="241.18" r="1.4"/><circle cx="649.06" cy="241.18" r="1.4"/><circle cx="649.46" cy="241.18" r="1.4"/><circle cx="649.86" cy="241.18" r="1.4"/><circle cx="650.26" cy="241.18" r="1.4"/><circle cx="650.66" cy="241.18" r="1.4"/><circle cx="651.06" cy="241.18" r="1.4"/><circle cx="651.46" cy="241.18" r="1.4"/><circle cx="651.87" cy="241.18" r="1.4"/><circle cx="652.27" cy="241.18" r="1.4"/><circle cx="652.67" cy="241.18" r="1.4"/><circle cx="653.07" cy="241.18" r="1.4"/><circle cx="653.47" cy="241.18" r="1.4"/><circle cx="653.87" cy="241.18" r="1.4"/><circle cx="654.27" cy="241.18" r="1.4"/><circle cx="654.67" cy="241.18" r="1.4"/><circle cx="655.08" cy="241.18" r="1.4"/><circle cx="655.48" cy="241.18" r="1.4"/><circle cx="655.88" cy="241.18" r="1.4"/><circle cx="656.28" cy="241.18" r="1.4"/><circle cx="656.68" cy="241.18" r="1.4"/><circle cx="657.08" cy="241.18" r="1.4"/><circle cx="657.48" cy="241.18" r="1.4"/><circle cx="657.89" cy="241.18" r="1.4"/><circle cx="658.29" cy="241.18" r="1.4"/><circle cx="658.69" cy="241.18" r="1.4"/><circle cx="659.09" cy="241.18" r="1.4"/><circle cx="659.49" cy="241.18" r="1.4"/><circle cx="659.89" cy="242.34" r="1.4"/><circle cx="660.33" cy="242.34" r="1.4"/><circle cx="660.78" cy="242.34" r="1.4"/><circle cx="661.22" cy="242.34" r="1.4"/><circle cx="661.66" cy="243.49" r="1.4"/><circle cx="662.12" cy="243.49" r="1.4"/><circle cx="662.57" cy="243.49" r="1.4"/><circle cx="663.03" cy="243.49" r="1.4"/><circle cx="663.49" cy="243.49" r="1.4"/><circle cx="663.94" cy="243.49" r="1.4"/><circle cx="664.40" cy="243.49" r="1.4"/></g><g fill="none" stroke="#0000ff" stroke-width="0.6"><rect x="401.80" y="43.50" width="2.8" height="2.8"/><rect x="414.52" y="45.20" width="2.8" height="2.8"/><rect x="421.96" y="64.20" width="2.8" height="2.8"/><rect x="427.24" y="65.60" width="2.8" height="2.8"/><rect x="431.33" y="69.10" width="2.8" height="2.8"/><rect x="434.68" y="70.90" width="2.8" height="2.8"/><rect x="437.51" y="82.70" width="2.8" height="2.8"/><rect x="439.96" y="84.80" width="2.8" height="2.8"/><rect x="442.12" y="86.00" width="2.8" height="2.8"/><rect x="444.05" y="88.50" width="2.8" height="2.8"/><rect x="445.80" y="89.63" width="2.8" height="2.8"/><rect x="447.40" y="89.63" width="2.8" height="2.8"/><rect x="448.86" y="89.63" width="2.8" height="2.8"/><rect x="450.22" y="89.63" width="2.8" height="2.8"/><rect x="451.49" y="89.63" width="2.8" height="2.8"/><rect x="452.67" y="90.78" width="2.8" height="2.8"/><rect x="453.79" y="90.78" width="2.8" height="2.8"/><rect x="454.84" y="90.78" width="2.8" height="2.8"/><rect x="455.83" y="90.78" width="2.8" height="2.8"/><rect x="456.77" y="90.78" width="2.8" height="2.8"/><rect x="457.66" y="94.25" width="2.8" height="2.8"/><rect x="458.52" y="95.41" width="2.8" height="2.8"/><rect x="459.33" y="97.72" width="2.8" height="2.8"/><rect x="460.11" y="97.72" width="2.8" height="2.8"/><rect x="460.86" y="98.87" width="2.8" height="2.8"/><rect x="461.58" y="98.87" width="2.8" height="2.8"/><rect x="462.28" y="98.87" width="2.8" height="2.8"/><rect x="462.94" y="98.87" width="2.8" height="2.8"/><rect x="463.59" y="100.03" width="2.8" height="2.8"/><rect x="464.21" y="101.18" width="2.8" height="2.8"/><rect x="464.81" y="101.18" width="2.8" height="2.8"/><rect x="465.39" y="102.34" width="2.8" height="2.8"/><rect x="465.96" y="102.34" width="2.8" height="2.8"/><rect x="466.50" y="103.49" width="2.8" height="2.8"/><rect x="467.04" y="103.49" width="2.8" height="2.8"/><rect x="467.55" y="104.65" width="2.8" height="2.8"/><rect x="468.06" y="104.65" width="2.8" height="2.8"/><rect x="468.55" y="104.65" width="2.8" height="2.8"/><rect x="469.02" y="105.80" width="2.8" height="2.8"/><rect x="469.49" y="105.80" width="2.8" height="2.8"/><rect x="469.94" y="105.80" width="2.8" height="2.8"/><rect x="470.38" y="106.96" width="2.8" height="2.8"/><rect x="470.81" y="106.96" width="2.8" height="2.8"/><rect x="471.24" y="106.96" width="2.8" height="2.8"/><rect x="471.65" y="106.96" width="2.8" height="2.8"/><rect x="472.05" y="106.96" width="2.8" height="2.8"/><rect x="472.45" y="108.11" width="2.8" height="2.8"/><rect x="472.83" y="108.11" width="2.8" height="2.8"/><rect x="473.21" y="108.11" width="2.8" height="2.8"/><rect x="473.58" y="109.27" width="2.8" height="2.8"/><rect x="473.94" y="109.27" width="2.8" height="2.8"/><rect x="474.30" y="110.42" width="2.8" height="2.8"/><rect x="474.65" y="110.42" width="2.8" height="2.8"/><rect x="474.99" y="111.57" width="2.8" height="2.8"/><rect x="475.33" y="111.57" width="2.8" height="2.8"/><rect x="475.66" y="111.57" width="2.8" height="2.8"/><rect x="475.99" y="111.57" width="2.8" height="2.8"/><rect x="476.30" y="111.57" width="2.8" height="2.8"/><rect x="476.62" y="112.73" width="2.8" height="2.8"/><rect x="476.93" y="112.73" width="2.8" height="2.8"/><rect x="477.23" y="112.73" width="2.8" height="2.8"/><rect x="477.53" y="112.73" width="2.8" height="2.8"/><rect x="477.82" y="112.73" width="2.8" height="2.8"/><rect x="478.11" y="112.73" width="2.8" height="2.8"/><rect x="478.40" y="113.88" width="2.8" height="2.8"/><rect x="478.68" y="113.88" width="2.8" height="2.8"/><rect x="478.95" y="113.88" width="2.8" height="2.8"/><rect x="479.22" y="113.88" width="2.8" height="2.8"/><rect x="479.49" y="113.88" width="2.8" height="2.8"/><rect x="479.76" y="113.88" width="2.8" height="2.8"/><rect x="480.02" y="115.04" width="2.8" height="2.8"/><rect x="480.27" y="115.04" width="2.8" height="2.8"/><rect x="480.53" y="115.04" width="2.8" height="2.8"/><rect x="480.78" y="115.04" width="2.8" height="2.8"/><rect x="481.02" y="116.19" width="2.8" height="2.8"/><rect x="481.26" y="116.19" width="2.8" height="2.8"/><rect x="481.50" y="117.35" width="2.8" height="2.8"/><rect x="481.74" y="117.35" width="2.8" height="2.8"/><rect x="481.97" y="118.51" width="2.8" height="2.8"/><rect x="482.21" y="118.51" width="2.8" height="2.8"/><rect x="482.43" y="119.66" width="2.8" height="2.8"/><rect x="482.66" y="119.66" width="2.8" height="2.8"/><rect x="482.88" y="119.66" width="2.8" height="2.8"/><rect x="483.10" y="119.66" width="2.8" height="2.8"/><rect x="483.32" y="119.66" width="2.8" height="2.8"/><rect x="483.53" y="120.81" width="2.8" height="2.8"/><rect x="483.74" y="120.81" width="2.8" height="2.8"/><rect x="483.95" y="120.81" width="2.8" height="2.8"/><rect x="484.16" y="120.81" width="2.8" height="2.8"/><rect x="484.37" y="120.81" width="2.8" height="2.8"/><rect x="484.57" y="120.81" width="2.8" height="2.8"/><rect x="484.77" y="121.97" width="2.8" height="2.8"/><rect x="484.97" y="121.97" width="2.8" height="2.8"/><rect x="485.16" y="121.97" width="2.8" height="2.8"/><rect x="485.36" y="121.97" width="2.8" height="2.8"/><rect x="485.55" y="121.97" width="2.8" height="2.8"/><rect x="485.74" y="121.97" width="2.8" height="2.8"/><rect x="485.93" y="123.12" width="2.8" height="2.8"/><rect x="486.12" y="123.12" width="2.8" height="2.8"/><rect x="486.30" y="123.12" width="2.8" height="2.8"/><rect x="486.48" y="123.12" width="2.8" height="2.8"/><rect x="486.66" y="123.12" width="2.8" height="2.8"/><rect x="486.84" y="124.28" width="2.8" height="2.8"/><rect x="487.02" y="124.28" width="2.8" height="2.8"/><rect x="487.20" y="124.28" width="2.8" height="2.8"/><rect x="487.37" y="124.28" width="2.8" height="2.8"/><rect x="487.54" y="124.28" width="2.8" height="2.8"/><rect x="487.71" y="125.44" width="2.8" height="2.8"/><rect x="487.88" y="125.44" width="2.8" height="2.8"/><rect x="488.05" y="125.44" width="2.8" height="2.8"/><rect x="488.21" y="125.44" width="2.8" height="2.8"/><rect x="488.38" y="125.44" width="2.8" height="2.8"/><rect x="488.54" y="125.44" width="2.8" height="2.8"/><rect x="488.70" y="126.59" width="2.8" height="2.8"/><rect x="488.86" y="126.59" width="2.8" height="2.8"/><rect x="489.02" y="126.59" width="2.8" height="2.8"/><rect x="489.18" y="126.59" width="2.8" height="2.8"/><rect x="489.34" y="126.59" width="2.8" height="2.8"/><rect x="489.49" y="127.75" width="2.8" height="2.8"/><rect x="489.65" y="127.75" width="2.8" height="2.8"/><rect x="489.80" y="127.75" width="2.8" height="2.8"/><rect x="489.95" y="127.75" width="2.8" height="2.8"/><rect x="490.10" y="127.75" width="2.8" height="2.8"/><rect x="490.25" y="127.75" width="2.8" height="2.8"/><rect x="490.39" y="127.75" width="2.8" height="2.8"/><rect x="490.54" y="128.90" width="2.8" height="2.8"/><rect x="490.69" y="128.90" width="2.8" height="2.8"/><rect x="490.83" y="128.90" width="2.8" height="2.8"/><rect x="490.97" y="128.90" width="2.8" height="2.8"/><rect x="491.11" y="128.90" width="2.8" height="2.8"/><rect x="491.25" y="128.90" width="2.8" height="2.8"/><rect x="491.39" y="128.90" width="2.8" height="2.8"/><rect x="491.53" y="128.90" width="2.8" height="2.8"/><rect x="491.67" y="128.90" width="2.8" height="2.8"/><rect x="491.81" y="128.90" width="2.8" height="2.8"/><rect x="491.94" y="128.90" width="2.8" height="2.8"/><rect x="492.08" y="130.06" width="2.8" height="2.8"/><rect x="492.21" y="130.06" width="2.8" height="2.8"/><rect x="492.34" y="130.06" width="2.8" height="2.8"/><rect x="492.47" y="130.06" width="2.8" height="2.8"/><rect x="492.60" y="130.06" width="2.8" height="2.8"/><rect x="492.73" y="130.06" width="2.8" height="2.8"/><rect x="492.86" y="130.06" width="2.8" height="2.8"/><rect x="492.99" y="130.06" width="2.8" height="2.8"/><rect x="493.12" y="130.06" width="2.8" height="2.8"/><rect x="493.24" y="130.06" width="2.8" height="2.8"/><rect x="493.37" y="130.06" width="2.8" height="2.8"/><rect x="493.49" y="130.06" width="2.8" height="2.8"/><rect x="493.62" y="130.06" width="2.8" height="2.8"/><rect x="493.74" y="130.06" width="2.8" height="2.8"/><rect x="493.86" y="131.21" width="2.8" height="2.8"/><rect x="493.98" y="131.21" width="2.8" height="2.8"/><rect x="494.10" y="131.21" width="2.8" height="2.8"/><rect x="494.22" y="131.21" width="2.8" height="2.8"/><rect x="494.34" y="131.21" width="2.8" height="2.8"/><rect x="494.46" y="131.21" width="2.8" height="2.8"/><rect x="494.58" y="131.21" width="2.8" height="2.8"/><rect x="494.69" y="131.21" width="2.8" height="2.8"/><rect x="494.81" y="131.21" width="2.8" height="2.8"/><rect x="494.92" y="131.21" width="2.8" height="2.8"/><rect x="495.04" y="131.21" width="2.8" height="2.8"/><rect x="495.15" y="131.21" width="2.8" height="2.8"/><rect x="495.26" y="131.21" width="2.8" height="2.8"/><rect x="495.38" y="131.21" width="2.8" height="2.8"/><rect x="495.49" y="131.21" width="2.8" height="2.8"/><rect x="495.60" y="131.21" width="2.8" height="2.8"/><rect x="495.71" y="131.21" width="2.8" height="2.8"/><rect x="495.82" y="131.21" width="2.8" height="2.8"/><rect x="495.93" y="131.21" width="2.8" height="2.8"/><rect x="496.04" y="131.21" width="2.8" height="2.8"/><rect x="496.14" y="131.21" width="2.8" height="2.8"/><rect x="496.25" y="131.21" width="2.8" height="2.8"/><rect x="496.36" y="131.21" width="2.8" height="2.8"/><rect x="496.46" y="131.21" width="2.8" height="2.8"/><rect x="496.57" y="131.21" width="2.8" height="2.8"/><rect x="496.67" y="131.21" width="2.8" height="2.8"/><rect x="496.78" y="131.21" width="2.8" height="2.8"/><rect x="496.88" y="131.21" width="2.8" height="2.8"/><rect x="496.98" y="131.21" width="2.8" height="2.8"/><rect x="497.09" y="131.21" width="2.8" height="2.8"/><rect x="497.19" y="131.21" width="2.8" height="2.8"/><rect x="497.29" y="131.21" width="2.8" height="2.8"/><rect x="497.39" y="131.21" width="2.8" height="2.8"/><rect x="497.49" y="131.21" width="2.8" height="2.8"/><rect x="497.59" y="131.21" width="2.8" height="2.8"/><rect x="497.69" y="131.21" width="2.8" height="2.8"/><rect x="497.79" y="131.21" width="2.8" height="2.8"/><rect x="497.88" y="131.21" width="2.8" height="2.8"/><rect x="497.98" y="131.21" width="2.8" height="2.8"/><rect x="498.08" y="131.21" width="2.8" height="2.8"/><rect x="498.17" y="131.21" width="2.8" height="2.8"/><rect x="498.27" y="131.21" width="2.8" height="2.8"/><rect x="498.36" y="131.21" width="2.8" height="2.8"/><rect x="498.46" y="131.21" width="2.8" height="2.8"/><rect x="498.55" y="131.21" width="2.8" height="2.8"/><rect x="498.65" y="131.21" width="2.8" height="2.8"/><rect x="498.74" y="131.21" width="2.8" height="2.8"/><rect x="498.83" y="131.21" width="2.8" height="2.8"/><rect x="498.93" y="131.21" width="2.8" height="2.8"/><rect x="499.02" y="131.21" width="2.8" height="2.8"/><rect x="499.11" y="131.21" width="2.8" height="2.8"/><rect x="499.20" y="131.21" width="2.8" height="2.8"/><rect x="499.29" y="131.21" width="2.8" height="2.8"/><rect x="499.38" y="131.21" width="2.8" height="2.8"/><rect x="499.47" y="131.21" width="2.8" height="2.8"/><rect x="499.56" y="131.21" width="2.8" height="2.8"/><rect x="499.65" y="131.21" width="2.8" height="2.8"/><rect x="499.74" y="131.21" width="2.8" height="2.8"/><rect x="499.83" y="131.21" width="2.8" height="2.8"/><rect x="499.91" y="131.21" width="2.8" height="2.8"/><rect x="500.00" y="131.21" width="2.8" height="2.8"/><rect x="500.09" y="131.21" width="2.8" height="2.8"/><rect x="500.17" y="131.21" width="2.8" height="2.8"/><rect x="500.26" y="131.21" width="2.8" height="2.8"/><rect x="500.35" y="131.21" width="2.8" height="2.8"/><rect x="500.43" y="131.21" width="2.8" height="2.8"/><rect x="500.52" y="131.21" width="2.8" height="2.8"/><rect x="500.60" y="131.21" width="2.8" height="2.8"/><rect x="500.68" y="131.21" width="2.8" height="2.8"/><rect x="500.77" y="131.21" width="2.8" height="2.8"/><rect x="500.85" y="131.21" width="2.8" height="2.8"/><rect x="500.93" y="131.21" width="2.8" height="2.8"/><rect x="501.02" y="131.21" width="2.8" height="2.8"/><rect x="501.10" y="132.37" width="2.8" height="2.8"/><rect x="501.18" y="132.37" width="2.8" height="2.8"/><rect x="501.26" y="132.37" width="2.8" height="2.8"/><rect x="501.34" y="132.37" width="2.8" height="2.8"/><rect x="501.42" y="132.37" width="2.8" height="2.8"/><rect x="501.50" y="132.37" width="2.8" height="2.8"/><rect x="501.58" y="132.37" width="2.8" height="2.8"/><rect x="501.66" y="132.37" width="2.8" height="2.8"/><rect x="501.74" y="132.37" width="2.8" height="2.8"/><rect x="501.82" y="132.37" width="2.8" height="2.8"/><rect x="501.90" y="132.37" width="2.8" height="2.8"/><rect x="501.98" y="132.37" width="2.8" height="2.8"/><rect x="502.06" y="132.37" width="2.8" height="2.8"/><rect x="502.13" y="132.37" width="2.8" height="2.8"/><rect x="502.21" y="132.37" width="2.8" height="2.8"/><rect x="502.29" y="132.37" width="2.8" height="2.8"/><rect x="502.36" y="132.37" width="2.8" height="2.8"/><rect x="502.44" y="132.37" width="2.8" height="2.8"/><rect x="502.52" y="132.37" width="2.8" height="2.8"/><rect x="502.59" y="132.37" width="2.8" height="2.8"/><rect x="502.67" y="132.37" width="2.8" height="2.8"/><rect x="502.74" y="132.37" width="2.8" height="2.8"/><rect x="502.82" y="132.37" width="2.8" height="2.8"/><rect x="502.89" y="132.37" width="2.8" height="2.8"/><rect x="502.97" y="132.37" width="2.8" height="2.8"/><rect x="503.04" y="132.37" width="2.8" height="2.8"/><rect x="503.11" y="132.37" width="2.8" height="2.8"/><rect x="503.19" y="132.37" width="2.8" height="2.8"/><rect x="503.26" y="132.37" width="2.8" height="2.8"/><rect x="503.33" y="132.37" width="2.8" height="2.8"/><rect x="503.40" y="132.37" width="2.8" height="2.8"/><rect x="503.48" y="132.37" width="2.8" height="2.8"/><rect x="503.55" y="132.37" width="2.8" height="2.8"/><rect x="503.62" y="132.37" width="2.8" height="2.8"/><rect x="503.69" y="132.37" width="2.8" height="2.8"/><rect x="503.76" y="132.37" width="2.8" height="2.8"/><rect x="503.83" y="132.37" width="2.8" height="2.8"/><rect x="503.90" y="132.37" width="2.8" height="2.8"/><rect x="503.97" y="132.37" width="2.8" height="2.8"/><rect x="504.04" y="132.37" width="2.8" height="2.8"/><rect x="504.11" y="132.37" width="2.8" height="2.8"/><rect x="504.18" y="132.37" width="2.8" height="2.8"/><rect x="504.25" y="132.37" width="2.8" height="2.8"/><rect x="504.32" y="132.37" width="2.8" height="2.8"/><rect x="504.39" y="132.37" width="2.8" height="2.8"/><rect x="504.46" y="132.37" width="2.8" height="2.8"/><rect x="504.53" y="132.37" width="2.8" height="2.8"/><rect x="504.59" y="132.37" width="2.8" height="2.8"/><rect x="504.66" y="132.37" width="2.8" height="2.8"/><rect x="504.73" y="132.37" width="2.8" height="2.8"/><rect x="504.79" y="132.37" width="2.8" height="2.8"/><rect x="504.86" y="132.37" width="2.8" height="2.8"/><rect x="504.93" y="132.37" width="2.8" height="2.8"/><rect x="504.99" y="132.37" width="2.8" height="2.8"/><rect x="505.06" y="132.37" width="2.8" height="2.8"/><rect x="505.13" y="132.37" width="2.8" height="2.8"/><rect x="505.19" y="132.37" width="2.8" height="2.8"/><rect x="505.26" y="132.37" width="2.8" height="2.8"/><rect x="505.32" y="132.37" width="2.8" height="2.8"/><rect x="505.39" y="132.37" width="2.8" height="2.8"/><rect x="505.45" y="132.37" width="2.8" height="2.8"/><rect x="505.52" y="132.37" width="2.8" height="2.8"/><rect x="505.58" y="132.37" width="2.8" height="2.8"/><rect x="505.65" y="132.37" width="2.8" height="2.8"/><rect x="505.71" y="132.37" width="2.8" height="2.8"/><rect x="505.77" y="132.37" width="2.8" height="2.8"/><rect x="505.84" y="132.37" width="2.8" height="2.8"/><rect x="505.90" y="132.37" width="2.8" height="2.8"/><rect x="505.96" y="132.37" width="2.8" height="2.8"/><rect x="506.03" y="132.37" width="2.8" height="2.8"/><rect x="506.09" y="132.37" width="2.8" height="2.8"/><rect x="506.15" y="132.37" width="2.8" height="2.8"/><rect x="506.21" y="132.37" width="2.8" height="2.8"/><rect x="506.27" y="132.37" width="2.8" height="2.8"/><rect x="506.34" y="132.37" width="2.8" height="2.8"/><rect x="506.40" y="132.37" width="2.8" height="2.8"/><rect x="506.46" y="132.37" width="2.8" height="2.8"/></g><g fill="none" stroke="#0000ff" stroke-width="0.75"><rect x="506.31" y="132.22" width="3.1" height="3.1"/><rect x="506.78" y="132.22" width="3.1" height="3.1"/><rect x="507.26" y="132.22" width="3.1" height="3.1"/><rect x="507.74" y="132.22" width="3.1" height="3.1"/><rect x="508.21" y="132.22" width="3.1" height="3.1"/><rect x="508.69" y="133.37" width="3.1" height="3.1"/><rect x="509.10" y="133.37" width="3.1" height="3.1"/><rect x="509.51" y="133.37" width="3.1" height="3.1"/><rect x="509.93" y="133.37" width="3.1" height="3.1"/><rect x="510.34" y="133.37" width="3.1" height="3.1"/><rect x="510.75" y="133.37" width="3.1" height="3.1"/><rect x="511.16" y="133.37" width="3.1" height="3.1"/><rect x="511.58" y="133.37" width="3.1" height="3.1"/><rect x="511.99" y="133.37" width="3.1" height="3.1"/><rect x="512.40" y="133.37" width="3.1" height="3.1"/><rect x="512.81" y="133.37" width="3.1" height="3.1"/><rect x="513.23" y="133.37" width="3.1" height="3.1"/><rect x="513.64" y="133.37" width="3.1" height="3.1"/><rect x="514.05" y="133.37" width="3.1" height="3.1"/><rect x="514.46" y="133.37" width="3.1" height="3.1"/><rect x="514.88" y="133.37" width="3.1" height="3.1"/><rect x="515.29" y="133.37" width="3.1" height="3.1"/><rect x="515.70" y="133.37" width="3.1" height="3.1"/><rect x="516.11" y="133.37" width="3.1" height="3.1"/><rect x="516.53" y="133.37" width="3.1" height="3.1"/><rect x="516.94" y="133.37" width="3.1" height="3.1"/><rect x="517.35" y="134.52" width="3.1" height="3.1"/><rect x="517.76" y="134.52" width="3.1" height="3.1"/><rect x="518.18" y="134.52" width="3.1" height="3.1"/><rect x="518.59" y="134.52" width="3.1" height="3.1"/><rect x="519.00" y="134.52" width="3.1" height="3.1"/><rect x="519.42" y="134.52" width="3.1" height="3.1"/><rect x="519.83" y="134.52" width="3.1" height="3.1"/><rect x="520.25" y="134.52" width="3.1" height="3.1"/><rect x="520.66" y="134.52" width="3.1" height="3.1"/><rect x="521.07" y="134.52" width="3.1" height="3.1"/><rect x="521.49" y="134.52" width="3.1" height="3.1"/><rect x="521.90" y="134.52" width="3.1" height="3.1"/><rect x="522.31" y="134.52" width="3.1" height="3.1"/><rect x="522.73" y="134.52" width="3.1" height="3.1"/><rect x="523.14" y="134.52" width="3.1" height="3.1"/><rect x="523.55" y="134.52" width="3.1" height="3.1"/><rect x="523.97" y="134.52" width="3.1" height="3.1"/><rect x="524.38" y="134.52" width="3.1" height="3.1"/><rect x="524.80" y="134.52" width="3.1" height="3.1"/><rect x="525.21" y="134.52" width="3.1" height="3.1"/><rect x="525.62" y="134.52" width="3.1" height="3.1"/><rect x="526.04" y="134.52" width="3.1" height="3.1"/><rect x="526.45" y="135.68" width="3.1" height="3.1"/><rect x="526.85" y="135.68" width="3.1" height="3.1"/><rect x="527.26" y="135.68" width="3.1" height="3.1"/><rect x="527.66" y="135.68" width="3.1" height="3.1"/><rect x="528.07" y="135.68" width="3.1" height="3.1"/><rect x="528.47" y="135.68" width="3.1" height="3.1"/><rect x="528.87" y="135.68" width="3.1" height="3.1"/><rect x="529.28" y="135.68" width="3.1" height="3.1"/><rect x="529.68" y="135.68" width="3.1" height="3.1"/><rect x="530.08" y="135.68" width="3.1" height="3.1"/><rect x="530.49" y="135.68" width="3.1" height="3.1"/><rect x="530.89" y="135.68" width="3.1" height="3.1"/><rect x="531.30" y="135.68" width="3.1" height="3.1"/><rect x="531.70" y="135.68" width="3.1" height="3.1"/><rect x="532.10" y="135.68" width="3.1" height="3.1"/><rect x="532.51" y="135.68" width="3.1" height="3.1"/><rect x="532.91" y="135.68" width="3.1" height="3.1"/><rect x="533.31" y="135.68" width="3.1" height="3.1"/><rect x="533.72" y="135.68" width="3.1" height="3.1"/><rect x="534.12" y="135.68" width="3.1" height="3.1"/><rect x="534.53" y="135.68" width="3.1" height="3.1"/><rect x="534.93" y="136.83" width="3.1" height="3.1"/><rect x="535.35" y="136.83" width="3.1" height="3.1"/><rect x="535.76" y="136.83" width="3.1" height="3.1"/><rect x="536.18" y="136.83" width="3.1" height="3.1"/><rect x="536.60" y="136.83" width="3.1" height="3.1"/><rect x="537.01" y="136.83" width="3.1" height="3.1"/><rect x="537.43" y="136.83" width="3.1" height="3.1"/><rect x="537.85" y="136.83" width="3.1" height="3.1"/><rect x="538.27" y="136.83" width="3.1" height="3.1"/><rect x="538.68" y="136.83" width="3.1" height="3.1"/><rect x="539.10" y="136.83" width="3.1" height="3.1"/><rect x="539.52" y="136.83" width="3.1" height="3.1"/><rect x="539.93" y="136.83" width="3.1" height="3.1"/><rect x="540.35" y="137.99" width="3.1" height="3.1"/><rect x="540.75" y="137.99" width="3.1" height="3.1"/><rect x="541.15" y="137.99" width="3.1" height="3.1"/><rect x="541.55" y="137.99" width="3.1" height="3.1"/><rect x="541.95" y="137.99" width="3.1" height="3.1"/><rect x="542.36" y="137.99" width="3.1" height="3.1"/><rect x="542.76" y="137.99" width="3.1" height="3.1"/><rect x="543.16" y="137.99" width="3.1" height="3.1"/><rect x="543.56" y="137.99" width="3.1" height="3.1"/><rect x="543.96" y="137.99" width="3.1" height="3.1"/><rect x="544.36" y="137.99" width="3.1" height="3.1"/><rect x="544.76" y="137.99" width="3.1" height="3.1"/><rect x="545.16" y="137.99" width="3.1" height="3.1"/><rect x="545.56" y="137.99" width="3.1" height="3.1"/><rect x="545.96" y="137.99" width="3.1" height="3.1"/><rect x="546.36" y="137.99" width="3.1" height="3.1"/><rect x="546.76" y="137.99" width="3.1" height="3.1"/><rect x="547.16" y="137.99" width="3.1" height="3.1"/><rect x="547.56" y="137.99" width="3.1" height="3.1"/><rect x="547.97" y="137.99" width="3.1" height="3.1"/><rect x="548.37" y="137.99" width="3.1" height="3.1"/><rect x="548.77" y="137.99" width="3.1" height="3.1"/><rect x="549.17" y="137.99" width="3.1" height="3.1"/><rect x="549.57" y="137.99" width="3.1" height="3.1"/><rect x="549.97" y="137.99" width="3.1" height="3.1"/><rect x="550.37" y="137.99" width="3.1" height="3.1"/><rect x="550.77" y="137.99" width="3.1" height="3.1"/><rect x="551.17" y="137.99" width="3.1" height="3.1"/><rect x="551.57" y="137.99" width="3.1" height="3.1"/><rect x="551.97" y="137.99" width="3.1" height="3.1"/><rect x="552.37" y="137.99" width="3.1" height="3.1"/><rect x="552.77" y="137.99" width="3.1" height="3.1"/><rect x="553.17" y="137.99" width="3.1" height="3.1"/><rect x="553.58" y="137.99" width="3.1" height="3.1"/><rect x="553.98" y="137.99" width="3.1" height="3.1"/><rect x="554.38" y="137.99" width="3.1" height="3.1"/><rect x="554.78" y="137.99" width="3.1" height="3.1"/><rect x="555.18" y="137.99" width="3.1" height="3.1"/><rect x="555.58" y="137.99" width="3.1" height="3.1"/><rect x="555.98" y="137.99" width="3.1" height="3.1"/><rect x="556.38" y="137.99" width="3.1" height="3.1"/><rect x="556.78" y="137.99" width="3.1" height="3.1"/><rect x="557.18" y="137.99" width="3.1" height="3.1"/><rect x="557.58" y="137.99" width="3.1" height="3.1"/><rect x="557.98" y="137.99" width="3.1" height="3.1"/><rect x="558.38" y="137.99" width="3.1" height="3.1"/><rect x="558.78" y="137.99" width="3.1" height="3.1"/><rect x="559.19" y="137.99" width="3.1" height="3.1"/><rect x="559.59" y="137.99" width="3.1" height="3.1"/><rect x="559.99" y="137.99" width="3.1" height="3.1"/><rect x="560.39" y="137.99" width="3.1" height="3.1"/><rect x="560.79" y="137.99" width="3.1" height="3.1"/><rect x="561.19" y="137.99" width="3.1" height="3.1"/><rect x="561.59" y="137.99" width="3.1" height="3.1"/><rect x="561.99" y="137.99" width="3.1" height="3.1"/><rect x="562.39" y="137.99" width="3.1" height="3.1"/><rect x="562.79" y="137.99" width="3.1" height="3.1"/><rect x="563.19" y="137.99" width="3.1" height="3.1"/><rect x="563.59" y="137.99" width="3.1" height="3.1"/><rect x="563.99" y="137.99" width="3.1" height="3.1"/><rect x="564.40" y="137.99" width="3.1" height="3.1"/><rect x="564.80" y="137.99" width="3.1" height="3.1"/><rect x="565.20" y="137.99" width="3.1" height="3.1"/><rect x="565.60" y="137.99" width="3.1" height="3.1"/><rect x="566.00" y="137.99" width="3.1" height="3.1"/><rect x="566.40" y="137.99" width="3.1" height="3.1"/><rect x="566.80" y="137.99" width="3.1" height="3.1"/><rect x="567.20" y="137.99" width="3.1" height="3.1"/><rect x="567.60" y="137.99" width="3.1" height="3.1"/><rect x="568.00" y="137.99" width="3.1" height="3.1"/><rect x="568.40" y="139.14" width="3.1" height="3.1"/><rect x="568.81" y="139.14" width="3.1" height="3.1"/><rect x="569.22" y="139.14" width="3.1" height="3.1"/><rect x="569.63" y="139.14" width="3.1" height="3.1"/><rect x="570.03" y="139.14" width="3.1" height="3.1"/><rect x="570.44" y="139.14" width="3.1" height="3.1"/><rect x="570.85" y="139.14" width="3.1" height="3.1"/><rect x="571.26" y="139.14" width="3.1" height="3.1"/><rect x="571.67" y="139.14" width="3.1" height="3.1"/><rect x="572.07" y="139.14" width="3.1" height="3.1"/><rect x="572.48" y="139.14" width="3.1" height="3.1"/><rect x="572.89" y="139.14" width="3.1" height="3.1"/><rect x="573.30" y="139.14" width="3.1" height="3.1"/><rect x="573.70" y="139.14" width="3.1" height="3.1"/><rect x="574.11" y="139.14" width="3.1" height="3.1"/><rect x="574.52" y="139.14" width="3.1" height="3.1"/><rect x="574.93" y="139.14" width="3.1" height="3.1"/><rect x="575.34" y="139.14" width="3.1" height="3.1"/><rect x="575.74" y="139.14" width="3.1" height="3.1"/><rect x="576.15" y="139.14" width="3.1" height="3.1"/><rect x="576.56" y="139.14" width="3.1" height="3.1"/><rect x="576.97" y="139.14" width="3.1" height="3.1"/><rect x="577.38" y="139.14" width="3.1" height="3.1"/><rect x="577.78" y="139.14" width="3.1" height="3.1"/><rect x="578.19" y="139.14" width="3.1" height="3.1"/><rect x="578.60" y="139.14" width="3.1" height="3.1"/><rect x="579.01" y="139.14" width="3.1" height="3.1"/><rect x="579.41" y="139.14" width="3.1" height="3.1"/><rect x="579.82" y="139.14" width="3.1" height="3.1"/><rect x="580.23" y="139.14" width="3.1" height="3.1"/><rect x="580.64" y="139.14" width="3.1" height="3.1"/><rect x="581.05" y="139.14" width="3.1" height="3.1"/><rect x="581.45" y="139.14" width="3.1" height="3.1"/><rect x="581.86" y="139.14" width="3.1" height="3.1"/><rect x="582.27" y="139.14" width="3.1" height="3.1"/><rect x="582.68" y="139.14" width="3.1" height="3.1"/><rect x="583.09" y="139.14" width="3.1" height="3.1"/><rect x="583.49" y="139.14" width="3.1" height="3.1"/><rect x="583.90" y="139.14" width="3.1" height="3.1"/><rect x="584.31" y="139.14" width="3.1" height="3.1"/><rect x="584.72" y="139.14" width="3.1" height="3.1"/><rect x="585.12" y="139.14" width="3.1" height="3.1"/><rect x="585.53" y="139.14" width="3.1" height="3.1"/><rect x="585.94" y="139.14" width="3.1" height="3.1"/><rect x="586.35" y="139.14" width="3.1" height="3.1"/><rect x="586.76" y="139.14" width="3.1" height="3.1"/><rect x="587.16" y="140.30" width="3.1" height="3.1"/><rect x="587.59" y="140.30" width="3.1" height="3.1"/><rect x="588.02" y="140.30" width="3.1" height="3.1"/><rect x="588.45" y="140.30" width="3.1" height="3.1"/><rect x="588.88" y="140.30" width="3.1" height="3.1"/><rect x="589.31" y="140.30" width="3.1" height="3.1"/><rect x="589.74" y="140.30" width="3.1" height="3.1"/><rect x="590.17" y="140.30" width="3.1" height="3.1"/><rect x="590.60" y="140.30" width="3.1" height="3.1"/><rect x="591.03" y="140.30" width="3.1" height="3.1"/><rect x="591.46" y="141.45" width="3.1" height="3.1"/><rect x="591.97" y="141.45" width="3.1" height="3.1"/><rect x="592.47" y="141.45" width="3.1" height="3.1"/><rect x="592.98" y="142.61" width="3.1" height="3.1"/><rect x="593.48" y="142.61" width="3.1" height="3.1"/><rect x="593.99" y="142.61" width="3.1" height="3.1"/><rect x="594.49" y="143.76" width="3.1" height="3.1"/><rect x="594.99" y="143.76" width="3.1" height="3.1"/><rect x="595.49" y="144.92" width="3.1" height="3.1"/><rect x="595.98" y="144.92" width="3.1" height="3.1"/><rect x="596.47" y="146.07" width="3.1" height="3.1"/><rect x="596.95" y="146.07" width="3.1" height="3.1"/><rect x="597.44" y="147.23" width="3.1" height="3.1"/><rect x="597.93" y="147.23" width="3.1" height="3.1"/><rect x="598.41" y="148.38" width="3.1" height="3.1"/><rect x="598.89" y="148.38" width="3.1" height="3.1"/><rect x="599.36" y="149.54" width="3.1" height="3.1"/><rect x="599.80" y="149.54" width="3.1" height="3.1"/><rect x="600.24" y="150.69" width="3.1" height="3.1"/><rect x="601.40" y="153.00" width="3.1" height="3.1"/><rect x="602.29" y="155.31" width="3.1" height="3.1"/><rect x="602.89" y="157.62" width="3.1" height="3.1"/><rect x="603.33" y="159.94" width="3.1" height="3.1"/><rect x="603.67" y="162.25" width="3.1" height="3.1"/><rect x="603.93" y="164.56" width="3.1" height="3.1"/><rect x="604.19" y="166.87" width="3.1" height="3.1"/><rect x="604.40" y="169.18" width="3.1" height="3.1"/><rect x="604.58" y="171.49" width="3.1" height="3.1"/><rect x="604.77" y="173.80" width="3.1" height="3.1"/><rect x="604.91" y="176.11" width="3.1" height="3.1"/><rect x="605.01" y="178.41" width="3.1" height="3.1"/><rect x="605.11" y="180.72" width="3.1" height="3.1"/><rect x="605.21" y="183.03" width="3.1" height="3.1"/><rect x="605.28" y="185.34" width="3.1" height="3.1"/><rect x="605.32" y="187.66" width="3.1" height="3.1"/><rect x="605.37" y="189.97" width="3.1" height="3.1"/><rect x="605.42" y="192.28" width="3.1" height="3.1"/><rect x="605.47" y="194.59" width="3.1" height="3.1"/><rect x="605.53" y="196.89" width="3.1" height="3.1"/><rect x="605.59" y="199.20" width="3.1" height="3.1"/><rect x="605.65" y="201.51" width="3.1" height="3.1"/><rect x="605.71" y="203.82" width="3.1" height="3.1"/><rect x="605.80" y="206.13" width="3.1" height="3.1"/><rect x="605.89" y="208.44" width="3.1" height="3.1"/><rect x="605.99" y="210.75" width="3.1" height="3.1"/><rect x="606.08" y="213.06" width="3.1" height="3.1"/><rect x="606.20" y="215.38" width="3.1" height="3.1"/><rect x="606.40" y="217.69" width="3.1" height="3.1"/><rect x="606.86" y="217.69" width="3.1" height="3.1"/><rect x="607.33" y="217.69" width="3.1" height="3.1"/><rect x="607.80" y="218.84" width="3.1" height="3.1"/><rect x="608.22" y="218.84" width="3.1" height="3.1"/><rect x="608.64" y="218.84" width="3.1" height="3.1"/><rect x="609.07" y="218.84" width="3.1" height="3.1"/><rect x="609.49" y="218.84" width="3.1" height="3.1"/><rect x="609.92" y="218.84" width="3.1" height="3.1"/><rect x="610.34" y="218.84" width="3.1" height="3.1"/><rect x="610.76" y="220.00" width="3.1" height="3.1"/><rect x="611.77" y="222.31" width="3.1" height="3.1"/><rect x="612.32" y="224.62" width="3.1" height="3.1"/><rect x="612.77" y="226.93" width="3.1" height="3.1"/><rect x="613.73" y="229.24" width="3.1" height="3.1"/><rect x="614.45" y="230.39" width="3.1" height="3.1"/><rect x="615.15" y="231.54" width="3.1" height="3.1"/><rect x="615.84" y="232.70" width="3.1" height="3.1"/><rect x="616.46" y="233.85" width="3.1" height="3.1"/><rect x="617.07" y="235.01" width="3.1" height="3.1"/><rect x="617.51" y="235.01" width="3.1" height="3.1"/><rect x="617.96" y="235.01" width="3.1" height="3.1"/><rect x="618.41" y="235.01" width="3.1" height="3.1"/><rect x="618.85" y="235.01" width="3.1" height="3.1"/><rect x="619.30" y="236.16" width="3.1" height="3.1"/><rect x="619.72" y="236.16" width="3.1" height="3.1"/><rect x="620.14" y="236.16" width="3.1" height="3.1"/><rect x="620.57" y="236.16" width="3.1" height="3.1"/><rect x="620.99" y="236.16" width="3.1" height="3.1"/><rect x="621.41" y="236.16" width="3.1" height="3.1"/><rect x="621.83" y="236.16" width="3.1" height="3.1"/><rect x="622.26" y="236.16" width="3.1" height="3.1"/><rect x="622.68" y="236.16" width="3.1" height="3.1"/><rect x="623.10" y="237.32" width="3.1" height="3.1"/><rect x="623.56" y="237.32" width="3.1" height="3.1"/><rect x="624.02" y="237.32" width="3.1" height="3.1"/><rect x="624.48" y="237.32" width="3.1" height="3.1"/><rect x="624.95" y="237.32" width="3.1" height="3.1"/><rect x="625.41" y="237.32" width="3.1" height="3.1"/><rect x="625.87" y="238.47" width="3.1" height="3.1"/><rect x="626.28" y="238.47" width="3.1" height="3.1"/><rect x="626.69" y="238.47" width="3.1" height="3.1"/><rect x="627.10" y="238.47" width="3.1" height="3.1"/><rect x="627.50" y="239.63" width="3.1" height="3.1"/><rect x="627.98" y="239.63" width="3.1" height="3.1"/><rect x="628.45" y="239.63" width="3.1" height="3.1"/><rect x="628.92" y="239.63" width="3.1" height="3.1"/><rect x="629.40" y="239.63" width="3.1" height="3.1"/><rect x="629.87" y="240.78" width="3.1" height="3.1"/><rect x="630.32" y="240.78" width="3.1" height="3.1"/><rect x="630.77" y="240.78" width="3.1" height="3.1"/><rect x="631.22" y="240.78" width="3.1" height="3.1"/><rect x="631.67" y="240.78" width="3.1" height="3.1"/><rect x="632.11" y="240.78" width="3.1" height="3.1"/><rect x="632.56" y="241.94" width="3.1" height="3.1"/><rect x="632.97" y="241.94" width="3.1" height="3.1"/><rect x="633.37" y="241.94" width="3.1" height="3.1"/><rect x="633.77" y="241.94" width="3.1" height="3.1"/><rect x="634.17" y="241.94" width="3.1" height="3.1"/><rect x="634.58" y="241.94" width="3.1" height="3.1"/><rect x="634.98" y="241.94" width="3.1" height="3.1"/><rect x="635.38" y="243.09" width="3.1" height="3.1"/><rect x="635.79" y="243.09" width="3.1" height="3.1"/><rect x="636.21" y="243.09" width="3.1" height="3.1"/><rect x="636.62" y="243.09" width="3.1" height="3.1"/><rect x="637.03" y="243.09" width="3.1" height="3.1"/><rect x="637.44" y="243.09" width="3.1" height="3.1"/><rect x="637.85" y="243.09" width="3.1" height="3.1"/><rect x="638.27" y="243.09" width="3.1" height="3.1"/><rect x="638.68" y="243.09" width="3.1" height="3.1"/><rect x="639.09" y="243.09" width="3.1" height="3.1"/><rect x="639.50" y="243.09" width="3.1" height="3.1"/><rect x="639.92" y="243.09" width="3.1" height="3.1"/><rect x="640.33" y="243.09" width="3.1" height="3.1"/><rect x="640.74" y="243.09" width="3.1" height="3.1"/><rect x="641.15" y="243.09" width="3.1" height="3.1"/><rect x="641.56" y="243.09" width="3.1" height="3.1"/><rect x="641.98" y="243.09" width="3.1" height="3.1"/><rect x="642.39" y="243.09" width="3.1" height="3.1"/><rect x="642.80" y="243.09" width="3.1" height="3.1"/><rect x="643.21" y="243.09" width="3.1" height="3.1"/><rect x="643.63" y="243.09" width="3.1" height="3.1"/><rect x="644.04" y="243.09" width="3.1" height="3.1"/><rect x="644.45" y="243.09" width="3.1" height="3.1"/></g><text x="173.8" y="319" text-anchor="middle" font-family="&quot;Liberation Serif&quot;, serif" font-size="19.5" fill="#000">(a)</text><text x="534.2" y="319" text-anchor="middle" font-family="&quot;Liberation Serif&quot;, serif" font-size="19.5" fill="#000">(b)</text>
</svg>
</body></html>
